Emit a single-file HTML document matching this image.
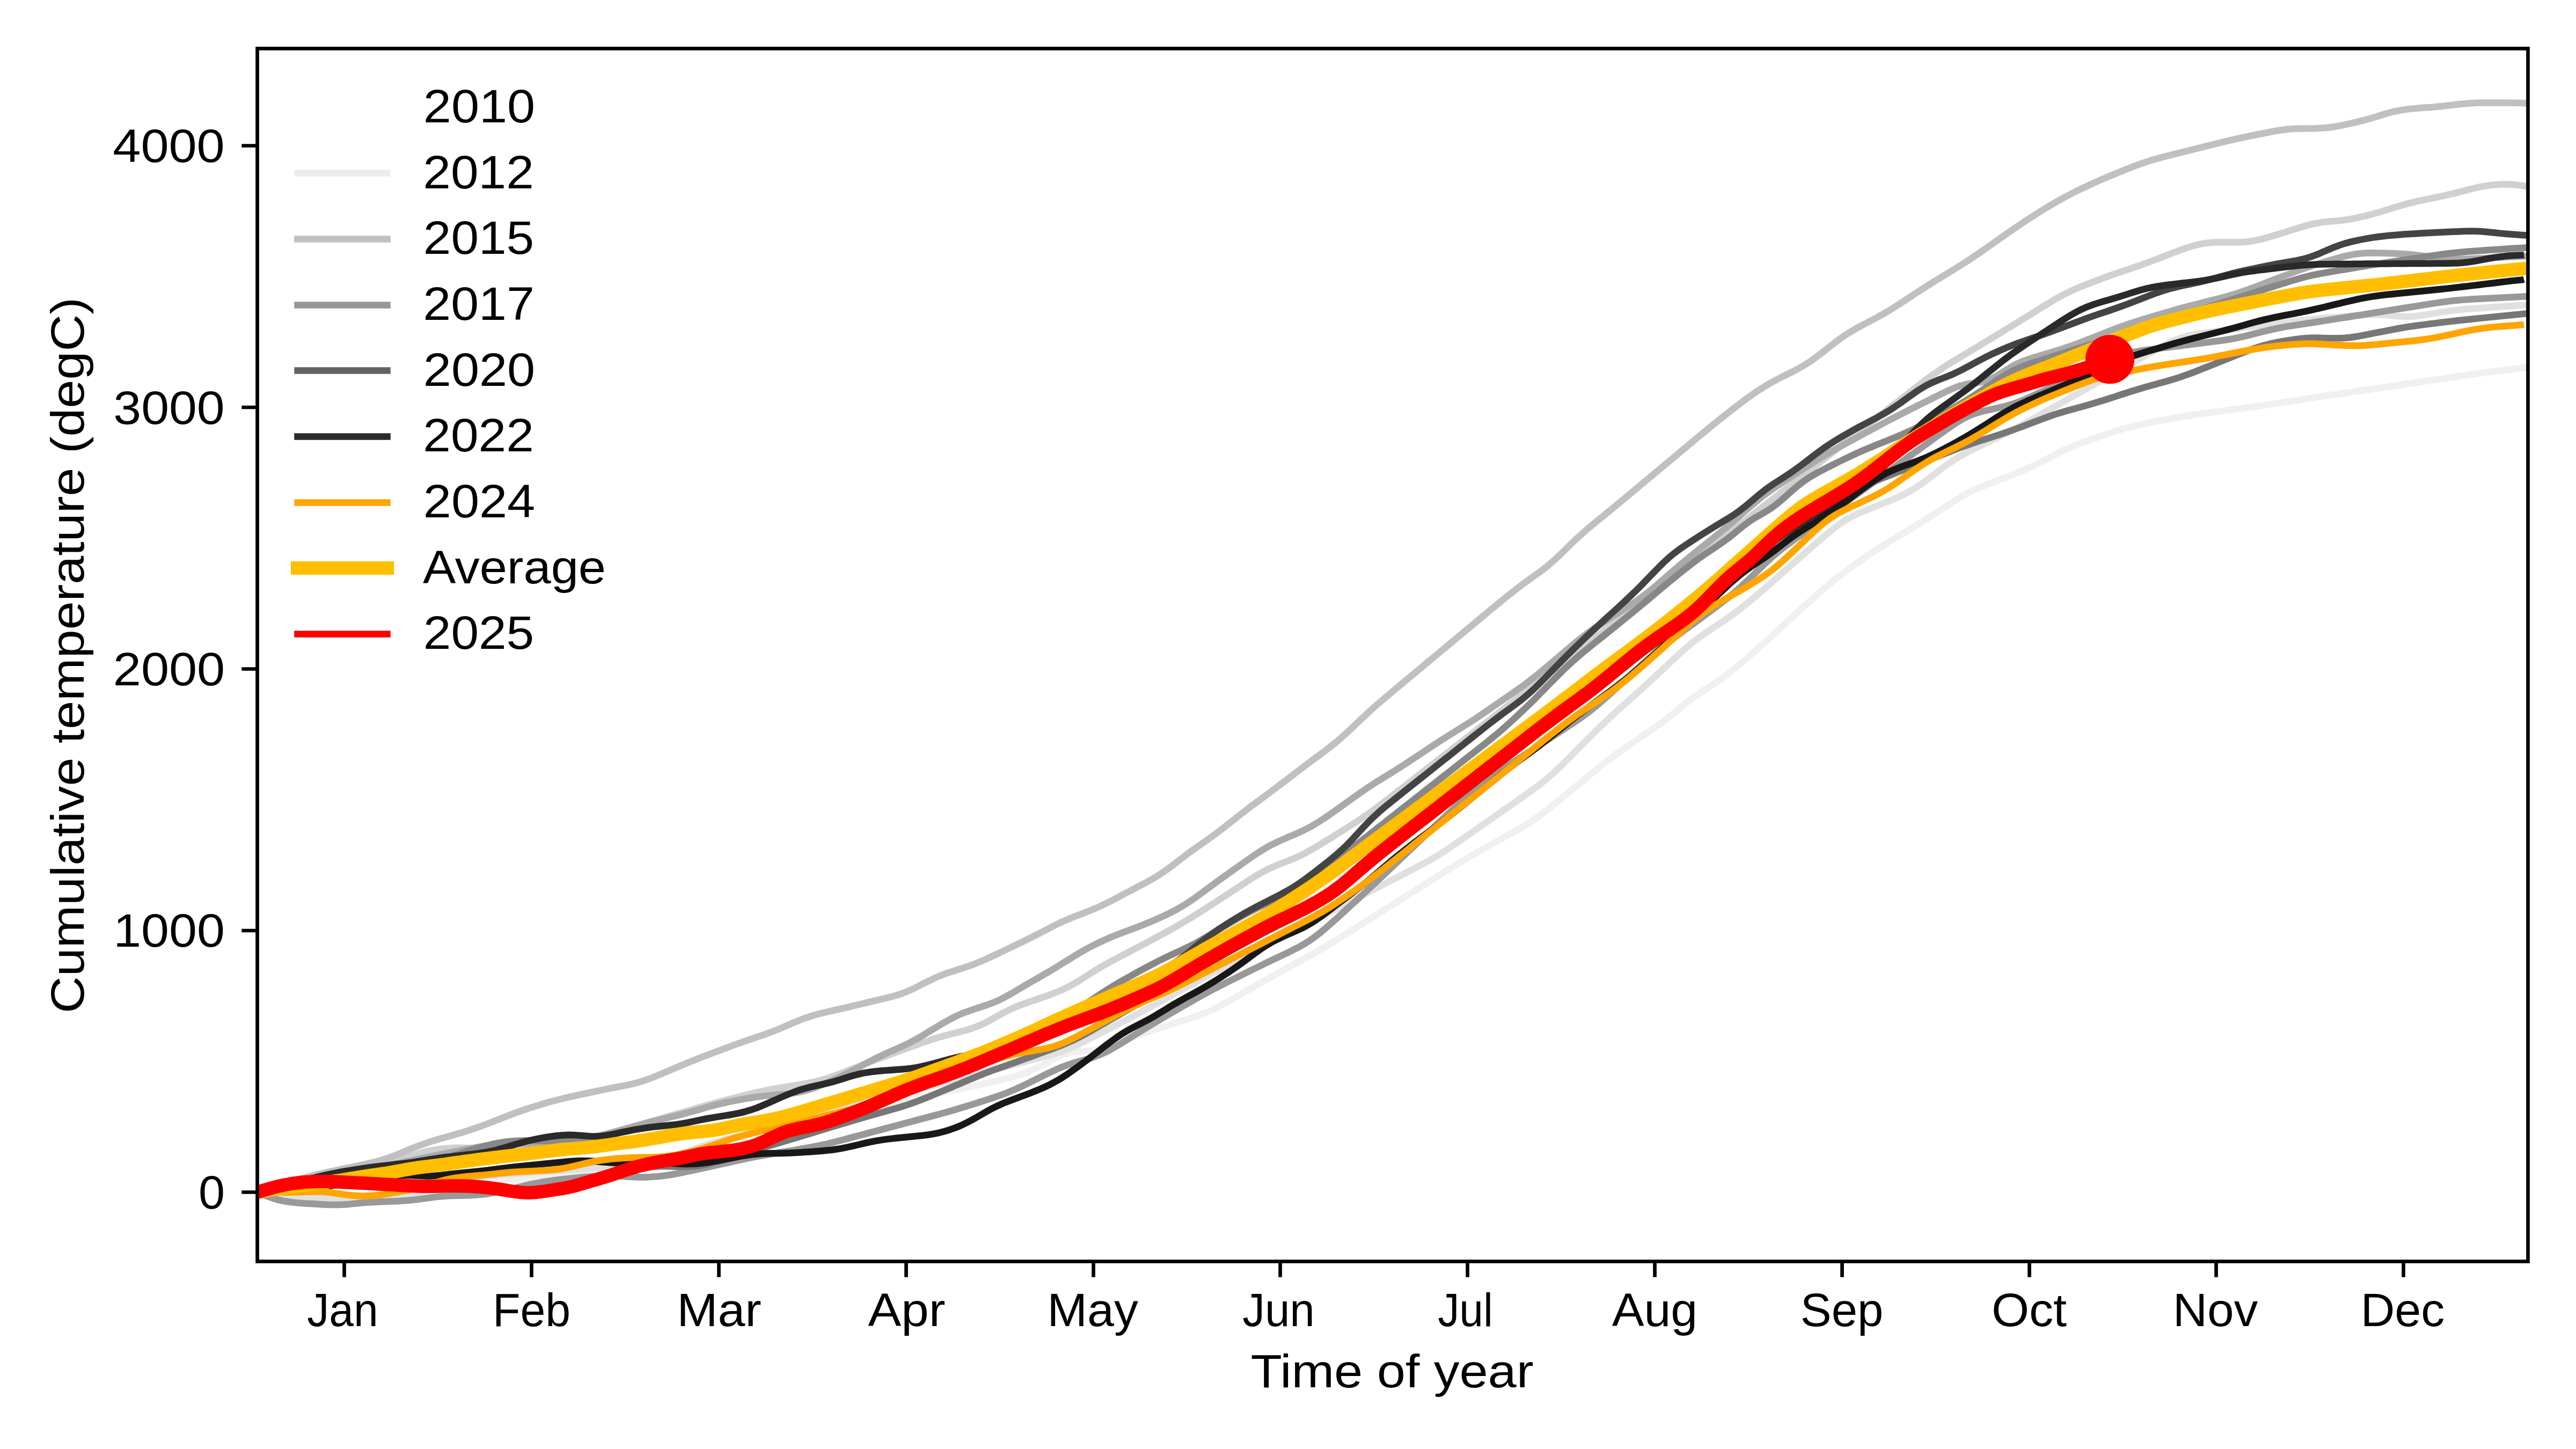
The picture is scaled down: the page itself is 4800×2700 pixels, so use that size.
<!DOCTYPE html>
<html><head><meta charset="utf-8"><style>html,body{margin:0;padding:0;background:#fff;width:4800px;height:2700px;overflow:hidden}svg{display:block}</style></head>
<body><svg width="4800" height="2700" viewBox="0 0 4800 2700">
<rect width="4800" height="2700" fill="#fff"/>
<defs><clipPath id="c"><rect x="479.5" y="90.5" width="4231.0" height="2260.0"/></clipPath></defs>
<g clip-path="url(#c)" fill="none" stroke-linejoin="round" stroke-linecap="butt">
<polyline points="479.5,2221.5 489.5,2224.8 499.5,2227.9 509.5,2230.5 519.5,2232.6 529.5,2233.9 539.5,2234.7 549.5,2235.0 559.5,2235.1 569.5,2235.1 579.5,2235.2 589.5,2235.3 599.5,2235.8 609.5,2236.4 619.5,2237.2 629.5,2238.2 639.5,2239.1 649.5,2239.9 659.5,2240.5 669.5,2240.9 679.5,2241.0 689.5,2240.7 699.5,2240.1 709.5,2239.2 719.5,2238.0 729.5,2236.6 739.5,2234.9 749.5,2233.1 759.5,2231.0 769.5,2228.8 779.5,2226.4 789.5,2223.8 799.5,2221.3 809.5,2218.7 819.5,2216.1 829.5,2213.8 839.5,2211.7 849.5,2209.8 859.5,2208.2 869.5,2206.9 879.5,2205.7 889.5,2204.6 899.5,2203.5 909.5,2202.6 919.5,2201.6 929.5,2200.7 939.5,2199.8 949.5,2198.9 959.5,2198.2 969.5,2197.5 979.5,2196.8 989.5,2196.2 999.5,2195.5 1009.5,2194.8 1019.5,2193.9 1029.5,2192.9 1039.5,2191.6 1049.5,2190.1 1059.5,2188.3 1069.5,2186.4 1079.5,2184.4 1089.5,2182.4 1099.5,2180.5 1109.5,2178.7 1119.5,2177.0 1129.5,2175.6 1139.5,2174.4 1149.5,2173.4 1159.5,2172.6 1169.5,2172.0 1179.5,2171.5 1189.5,2171.0 1199.5,2170.5 1209.5,2170.1 1219.5,2169.5 1229.5,2168.7 1239.5,2167.7 1249.5,2166.5 1259.5,2164.9 1269.5,2163.1 1279.5,2161.0 1289.5,2158.6 1299.5,2156.0 1309.5,2153.2 1319.5,2150.3 1329.5,2147.2 1339.5,2144.1 1349.5,2140.9 1359.5,2137.9 1369.5,2134.9 1379.5,2132.1 1389.5,2129.4 1399.5,2127.0 1409.5,2124.7 1419.5,2122.5 1429.5,2120.4 1439.5,2118.2 1449.5,2115.9 1459.5,2113.4 1469.5,2110.8 1479.5,2108.1 1489.5,2105.4 1499.5,2102.6 1509.5,2099.8 1519.5,2097.0 1529.5,2094.2 1539.5,2091.4 1549.5,2088.6 1559.5,2085.8 1569.5,2083.1 1579.5,2080.3 1589.5,2077.5 1599.5,2074.7 1609.5,2071.9 1619.5,2069.1 1629.5,2066.3 1639.5,2063.5 1649.5,2060.7 1659.5,2058.0 1669.5,2055.2 1679.5,2052.6 1689.5,2050.0 1699.5,2047.6 1709.5,2045.3 1719.5,2043.1 1729.5,2041.0 1739.5,2039.0 1749.5,2037.0 1759.5,2035.0 1769.5,2033.0 1779.5,2031.0 1789.5,2029.0 1799.5,2026.9 1809.5,2024.8 1819.5,2022.7 1829.5,2020.5 1839.5,2018.2 1849.5,2015.8 1859.5,2013.5 1869.5,2011.1 1879.5,2008.6 1889.5,2005.9 1899.5,2003.0 1909.5,1999.6 1919.5,1995.6 1929.5,1991.1 1939.5,1986.0 1949.5,1980.7 1959.5,1975.4 1969.5,1970.3 1979.5,1965.8 1989.5,1962.4 1999.5,1960.2 2009.5,1959.1 2019.5,1958.6 2029.5,1958.0 2039.5,1956.6 2049.5,1954.4 2059.5,1951.4 2069.5,1948.0 2079.5,1944.4 2089.5,1940.7 2099.5,1936.9 2109.5,1933.2 2119.5,1929.6 2129.5,1926.0 2139.5,1922.5 2149.5,1919.2 2159.5,1915.9 2169.5,1912.7 2179.5,1909.6 2189.5,1906.4 2199.5,1903.3 2209.5,1900.1 2219.5,1896.9 2229.5,1893.5 2239.5,1889.9 2249.5,1885.9 2259.5,1881.4 2269.5,1876.4 2279.5,1871.1 2289.5,1865.6 2299.5,1859.9 2309.5,1854.2 2319.5,1848.4 2329.5,1842.7 2339.5,1837.0 2349.5,1831.3 2359.5,1825.6 2369.5,1820.0 2379.5,1814.4 2389.5,1808.8 2399.5,1803.3 2409.5,1797.8 2419.5,1792.3 2429.5,1786.8 2439.5,1781.2 2449.5,1775.6 2459.5,1769.9 2469.5,1764.0 2479.5,1758.0 2489.5,1751.9 2499.5,1745.7 2509.5,1739.5 2519.5,1733.2 2529.5,1726.9 2539.5,1720.6 2549.5,1714.3 2559.5,1708.0 2569.5,1701.7 2579.5,1695.4 2589.5,1689.2 2599.5,1682.9 2609.5,1676.6 2619.5,1670.3 2629.5,1664.0 2639.5,1657.7 2649.5,1651.4 2659.5,1645.1 2669.5,1638.8 2679.5,1632.5 2689.5,1626.2 2699.5,1620.0 2709.5,1613.8 2719.5,1607.6 2729.5,1601.6 2739.5,1595.7 2749.5,1590.0 2759.5,1584.3 2769.5,1578.7 2779.5,1573.1 2789.5,1567.6 2799.5,1562.0 2809.5,1556.4 2819.5,1550.8 2829.5,1545.1 2839.5,1539.3 2849.5,1533.1 2859.5,1526.5 2869.5,1519.4 2879.5,1511.8 2889.5,1504.0 2899.5,1495.9 2909.5,1487.7 2919.5,1479.5 2929.5,1471.2 2939.5,1463.0 2949.5,1454.7 2959.5,1446.5 2969.5,1438.3 2979.5,1430.2 2989.5,1422.2 2999.5,1414.4 3009.5,1406.8 3019.5,1399.6 3029.5,1392.6 3039.5,1385.7 3049.5,1379.0 3059.5,1372.3 3069.5,1365.5 3079.5,1358.7 3089.5,1351.7 3099.5,1344.4 3109.5,1336.6 3119.5,1328.4 3129.5,1320.1 3139.5,1311.8 3149.5,1303.9 3159.5,1296.7 3169.5,1289.9 3179.5,1283.5 3189.5,1277.1 3199.5,1270.4 3209.5,1263.3 3219.5,1255.8 3229.5,1247.9 3239.5,1239.7 3249.5,1231.3 3259.5,1222.8 3269.5,1214.0 3279.5,1205.1 3289.5,1196.1 3299.5,1186.9 3309.5,1177.6 3319.5,1168.3 3329.5,1159.1 3339.5,1150.0 3349.5,1140.8 3359.5,1131.7 3369.5,1122.6 3379.5,1113.6 3389.5,1104.7 3399.5,1096.0 3409.5,1087.6 3419.5,1079.6 3429.5,1071.8 3439.5,1064.3 3449.5,1056.9 3459.5,1049.6 3469.5,1042.5 3479.5,1035.6 3489.5,1028.8 3499.5,1022.4 3509.5,1016.1 3519.5,1010.0 3529.5,1003.9 3539.5,997.9 3549.5,991.9 3559.5,985.8 3569.5,979.7 3579.5,973.6 3589.5,967.3 3599.5,960.9 3609.5,954.4 3619.5,947.9 3629.5,941.3 3639.5,934.9 3649.5,928.6 3659.5,922.8 3669.5,917.4 3679.5,912.5 3689.5,908.1 3699.5,904.0 3709.5,900.1 3719.5,896.3 3729.5,892.5 3739.5,888.7 3749.5,884.9 3759.5,880.9 3769.5,876.8 3779.5,872.3 3789.5,867.6 3799.5,862.7 3809.5,857.6 3819.5,852.4 3829.5,847.2 3839.5,842.2 3849.5,837.4 3859.5,833.0 3869.5,828.9 3879.5,825.0 3889.5,821.4 3899.5,817.8 3909.5,814.3 3919.5,810.8 3929.5,807.4 3939.5,804.1 3949.5,801.0 3959.5,798.1 3969.5,795.5 3979.5,793.1 3989.5,791.0 3999.5,788.9 4009.5,786.9 4019.5,784.9 4029.5,782.9 4039.5,781.0 4049.5,779.1 4059.5,777.4 4069.5,775.7 4079.5,774.2 4089.5,772.7 4099.5,771.4 4109.5,770.0 4119.5,768.7 4129.5,767.3 4139.5,766.0 4149.5,764.7 4159.5,763.3 4169.5,762.0 4179.5,760.7 4189.5,759.3 4199.5,757.9 4209.5,756.5 4219.5,755.1 4229.5,753.6 4239.5,752.1 4249.5,750.6 4259.5,749.0 4269.5,747.4 4279.5,745.9 4289.5,744.3 4299.5,742.8 4309.5,741.3 4319.5,739.8 4329.5,738.3 4339.5,736.8 4349.5,735.4 4359.5,733.9 4369.5,732.4 4379.5,730.9 4389.5,729.5 4399.5,728.0 4409.5,726.5 4419.5,725.1 4429.5,723.6 4439.5,722.1 4449.5,720.6 4459.5,719.2 4469.5,717.7 4479.5,716.2 4489.5,714.8 4499.5,713.3 4509.5,711.8 4519.5,710.3 4529.5,708.9 4539.5,707.4 4549.5,705.9 4559.5,704.5 4569.5,703.0 4579.5,701.5 4589.5,700.1 4599.5,698.6 4609.5,697.2 4619.5,695.8 4629.5,694.4 4639.5,693.1 4649.5,691.8 4659.5,690.5 4669.5,689.3 4679.5,688.0 4689.5,686.8 4699.5,685.5 4707.6,684.4" stroke="#f0f0f0" stroke-width="12.5" stroke-opacity="1"/>
<polyline points="479.5,2221.5 489.5,2223.9 499.5,2226.1 509.5,2228.0 519.5,2229.4 529.5,2230.4 539.5,2230.9 549.5,2231.1 559.5,2231.1 569.5,2231.1 579.5,2231.2 589.5,2231.3 599.5,2231.8 609.5,2232.4 619.5,2233.2 629.5,2234.2 639.5,2235.1 649.5,2235.9 659.5,2236.5 669.5,2236.9 679.5,2237.0 689.5,2236.7 699.5,2236.1 709.5,2235.2 719.5,2234.0 729.5,2232.6 739.5,2230.9 749.5,2229.1 759.5,2227.0 769.5,2224.6 779.5,2222.0 789.5,2219.0 799.5,2215.7 809.5,2212.0 819.5,2208.1 829.5,2204.3 839.5,2200.9 849.5,2198.0 859.5,2195.8 869.5,2194.2 879.5,2193.0 889.5,2192.1 899.5,2191.4 909.5,2190.6 919.5,2189.9 929.5,2189.2 939.5,2188.5 949.5,2187.8 959.5,2187.1 969.5,2186.4 979.5,2185.7 989.5,2185.0 999.5,2184.3 1009.5,2183.6 1019.5,2182.9 1029.5,2182.2 1039.5,2181.5 1049.5,2180.7 1059.5,2180.0 1069.5,2179.3 1079.5,2178.6 1089.5,2177.8 1099.5,2177.0 1109.5,2176.2 1119.5,2175.4 1129.5,2174.6 1139.5,2173.8 1149.5,2172.9 1159.5,2172.1 1169.5,2171.3 1179.5,2170.4 1189.5,2169.6 1199.5,2168.6 1209.5,2167.5 1219.5,2166.1 1229.5,2164.2 1239.5,2161.6 1249.5,2158.4 1259.5,2154.6 1269.5,2150.6 1279.5,2146.4 1289.5,2142.3 1299.5,2138.6 1309.5,2135.2 1319.5,2132.1 1329.5,2129.2 1339.5,2126.5 1349.5,2123.9 1359.5,2121.3 1369.5,2118.7 1379.5,2116.1 1389.5,2113.5 1399.5,2110.9 1409.5,2108.3 1419.5,2105.7 1429.5,2103.1 1439.5,2100.5 1449.5,2097.9 1459.5,2095.3 1469.5,2092.7 1479.5,2090.1 1489.5,2087.5 1499.5,2084.9 1509.5,2082.3 1519.5,2079.7 1529.5,2077.1 1539.5,2074.5 1549.5,2071.9 1559.5,2069.3 1569.5,2066.7 1579.5,2064.1 1589.5,2061.5 1599.5,2058.9 1609.5,2056.3 1619.5,2053.7 1629.5,2051.2 1639.5,2048.6 1649.5,2046.0 1659.5,2043.4 1669.5,2040.8 1679.5,2038.2 1689.5,2035.6 1699.5,2033.0 1709.5,2030.4 1719.5,2027.8 1729.5,2025.2 1739.5,2022.6 1749.5,2020.0 1759.5,2017.4 1769.5,2014.8 1779.5,2012.2 1789.5,2009.6 1799.5,2007.0 1809.5,2004.4 1819.5,2001.8 1829.5,1999.2 1839.5,1996.6 1849.5,1994.0 1859.5,1991.4 1869.5,1988.8 1879.5,1986.2 1889.5,1983.6 1899.5,1981.0 1909.5,1978.4 1919.5,1975.8 1929.5,1973.2 1939.5,1970.6 1949.5,1967.9 1959.5,1965.1 1969.5,1962.1 1979.5,1958.6 1989.5,1954.8 1999.5,1950.5 2009.5,1945.9 2019.5,1941.0 2029.5,1936.0 2039.5,1930.9 2049.5,1925.8 2059.5,1920.7 2069.5,1915.6 2079.5,1910.4 2089.5,1905.3 2099.5,1900.1 2109.5,1894.8 2119.5,1889.5 2129.5,1884.1 2139.5,1878.6 2149.5,1873.2 2159.5,1867.7 2169.5,1862.2 2179.5,1856.7 2189.5,1851.3 2199.5,1845.8 2209.5,1840.3 2219.5,1834.8 2229.5,1829.4 2239.5,1824.0 2249.5,1818.6 2259.5,1813.3 2269.5,1808.1 2279.5,1802.8 2289.5,1797.6 2299.5,1792.4 2309.5,1787.2 2319.5,1782.1 2329.5,1776.9 2339.5,1771.7 2349.5,1766.5 2359.5,1761.3 2369.5,1756.1 2379.5,1750.9 2389.5,1745.7 2399.5,1740.6 2409.5,1735.4 2419.5,1730.2 2429.5,1725.0 2439.5,1719.8 2449.5,1714.6 2459.5,1709.4 2469.5,1704.2 2479.5,1699.0 2489.5,1693.9 2499.5,1688.7 2509.5,1683.5 2519.5,1678.3 2529.5,1673.1 2539.5,1667.9 2549.5,1662.7 2559.5,1657.5 2569.5,1652.4 2579.5,1647.2 2589.5,1642.0 2599.5,1636.8 2609.5,1631.6 2619.5,1626.4 2629.5,1621.2 2639.5,1616.0 2649.5,1610.7 2659.5,1605.3 2669.5,1599.7 2679.5,1593.7 2689.5,1587.5 2699.5,1580.9 2709.5,1574.1 2719.5,1567.2 2729.5,1560.3 2739.5,1553.3 2749.5,1546.3 2759.5,1539.3 2769.5,1532.3 2779.5,1525.3 2789.5,1518.3 2799.5,1511.3 2809.5,1504.3 2819.5,1497.3 2829.5,1490.3 2839.5,1483.2 2849.5,1476.1 2859.5,1468.9 2869.5,1461.4 2879.5,1453.5 2889.5,1445.0 2899.5,1435.9 2909.5,1426.4 2919.5,1416.6 2929.5,1406.5 2939.5,1396.4 2949.5,1386.2 2959.5,1376.1 2969.5,1366.1 2979.5,1356.3 2989.5,1346.7 2999.5,1337.3 3009.5,1328.1 3019.5,1319.1 3029.5,1310.1 3039.5,1301.2 3049.5,1292.3 3059.5,1283.3 3069.5,1274.2 3079.5,1265.0 3089.5,1255.6 3099.5,1246.2 3109.5,1236.8 3119.5,1227.4 3129.5,1218.1 3139.5,1209.2 3149.5,1200.7 3159.5,1192.7 3169.5,1185.3 3179.5,1178.3 3189.5,1171.6 3199.5,1165.1 3209.5,1158.4 3219.5,1151.6 3229.5,1144.5 3239.5,1137.0 3249.5,1129.1 3259.5,1121.0 3269.5,1112.5 3279.5,1104.0 3289.5,1095.4 3299.5,1086.7 3309.5,1077.9 3319.5,1069.2 3329.5,1060.4 3339.5,1051.6 3349.5,1042.8 3359.5,1033.9 3369.5,1025.1 3379.5,1016.3 3389.5,1007.5 3399.5,998.9 3409.5,990.5 3419.5,982.5 3429.5,975.3 3439.5,968.8 3449.5,963.2 3459.5,958.3 3469.5,953.9 3479.5,949.7 3489.5,945.7 3499.5,941.7 3509.5,937.7 3519.5,933.6 3529.5,929.5 3539.5,925.1 3549.5,920.3 3559.5,915.0 3569.5,909.0 3579.5,902.3 3589.5,895.0 3599.5,887.4 3609.5,879.7 3619.5,872.0 3629.5,864.8 3639.5,858.0 3649.5,851.7 3659.5,846.0 3669.5,840.8 3679.5,835.8 3689.5,830.9 3699.5,826.1 3709.5,821.3 3719.5,816.4 3729.5,811.6 3739.5,806.6 3749.5,801.5 3759.5,796.2 3769.5,790.8 3779.5,785.2 3789.5,779.7 3799.5,774.1 3809.5,768.4 3819.5,762.8 3829.5,757.2 3839.5,751.6 3849.5,745.9 3859.5,740.3 3869.5,734.7 3879.5,729.0 3889.5,723.4 3899.5,717.8 3909.5,712.2 3919.5,706.5 3929.5,700.9 3939.5,695.3 3949.5,689.7 3959.5,684.0 3969.5,678.4 3979.5,672.8 3989.5,667.2 3999.5,661.5 4009.5,655.9 4019.5,650.4 4029.5,644.9 4039.5,639.7 4049.5,635.0 4059.5,631.0 4069.5,627.7 4079.5,625.1 4089.5,623.1 4099.5,621.5 4109.5,620.1 4119.5,618.7 4129.5,617.4 4139.5,616.1 4149.5,614.8 4159.5,613.5 4169.5,612.2 4179.5,610.9 4189.5,609.6 4199.5,608.3 4209.5,607.0 4219.5,605.6 4229.5,604.3 4239.5,603.0 4249.5,601.7 4259.5,600.4 4269.5,599.1 4279.5,597.9 4289.5,596.7 4299.5,595.6 4309.5,594.6 4319.5,593.7 4329.5,592.8 4339.5,592.0 4349.5,591.2 4359.5,590.4 4369.5,589.6 4379.5,588.8 4389.5,588.0 4399.5,587.3 4409.5,586.7 4419.5,586.3 4429.5,586.3 4439.5,586.7 4449.5,587.6 4459.5,588.6 4469.5,589.5 4479.5,590.0 4489.5,589.9 4499.5,589.2 4509.5,588.1 4519.5,586.6 4529.5,585.0 4539.5,583.3 4549.5,581.7 4559.5,580.1 4569.5,578.7 4579.5,577.6 4589.5,576.5 4599.5,575.7 4609.5,574.9 4619.5,574.2 4629.5,573.5 4639.5,572.8 4649.5,572.2 4659.5,571.5 4669.5,570.8 4679.5,570.2 4689.5,569.5 4699.5,568.9 4707.6,568.2" stroke="#e0e0e0" stroke-width="12.5" stroke-opacity="1"/>
<polyline points="479.5,2221.5 489.5,2219.3 499.5,2217.1 509.5,2214.9 519.5,2212.7 529.5,2210.5 539.5,2208.3 549.5,2206.1 559.5,2203.9 569.5,2201.6 579.5,2199.4 589.5,2197.2 599.5,2195.0 609.5,2192.8 619.5,2190.6 629.5,2188.4 639.5,2186.2 649.5,2184.0 659.5,2181.8 669.5,2179.6 679.5,2177.4 689.5,2175.2 699.5,2172.9 709.5,2170.6 719.5,2168.2 729.5,2165.5 739.5,2162.6 749.5,2159.4 759.5,2156.1 769.5,2152.8 779.5,2149.7 789.5,2146.9 799.5,2144.6 809.5,2142.6 819.5,2141.1 829.5,2139.9 839.5,2139.2 849.5,2138.8 859.5,2138.8 869.5,2139.0 879.5,2139.5 889.5,2140.0 899.5,2140.4 909.5,2140.7 919.5,2141.0 929.5,2141.1 939.5,2141.2 949.5,2141.2 959.5,2141.1 969.5,2140.9 979.5,2140.7 989.5,2140.5 999.5,2140.2 1009.5,2139.8 1019.5,2139.3 1029.5,2138.5 1039.5,2137.4 1049.5,2135.7 1059.5,2133.6 1069.5,2131.2 1079.5,2128.5 1089.5,2125.6 1099.5,2122.7 1109.5,2119.8 1119.5,2116.9 1129.5,2114.0 1139.5,2111.1 1149.5,2108.2 1159.5,2105.3 1169.5,2102.4 1179.5,2099.5 1189.5,2096.6 1199.5,2093.6 1209.5,2090.7 1219.5,2087.8 1229.5,2084.9 1239.5,2082.0 1249.5,2079.1 1259.5,2076.2 1269.5,2073.3 1279.5,2070.4 1289.5,2067.5 1299.5,2064.6 1309.5,2061.7 1319.5,2058.8 1329.5,2056.0 1339.5,2053.3 1349.5,2050.7 1359.5,2048.1 1369.5,2045.5 1379.5,2043.0 1389.5,2040.5 1399.5,2038.1 1409.5,2035.7 1419.5,2033.5 1429.5,2031.4 1439.5,2029.4 1449.5,2027.6 1459.5,2025.9 1469.5,2024.3 1479.5,2022.7 1489.5,2021.0 1499.5,2019.3 1509.5,2017.4 1519.5,2015.3 1529.5,2012.8 1539.5,2009.9 1549.5,2006.5 1559.5,2002.9 1569.5,1999.0 1579.5,1995.1 1589.5,1991.1 1599.5,1987.2 1609.5,1983.3 1619.5,1979.5 1629.5,1975.7 1639.5,1972.0 1649.5,1968.3 1659.5,1964.6 1669.5,1960.9 1679.5,1957.2 1689.5,1953.6 1699.5,1949.9 1709.5,1946.3 1719.5,1942.7 1729.5,1939.3 1739.5,1936.0 1749.5,1932.9 1759.5,1930.1 1769.5,1927.5 1779.5,1924.9 1789.5,1922.4 1799.5,1919.7 1809.5,1916.7 1819.5,1913.1 1829.5,1908.9 1839.5,1904.0 1849.5,1898.5 1859.5,1892.8 1869.5,1887.3 1879.5,1882.2 1889.5,1877.6 1899.5,1873.5 1909.5,1869.9 1919.5,1866.4 1929.5,1863.0 1939.5,1859.6 1949.5,1856.1 1959.5,1852.4 1969.5,1848.5 1979.5,1844.2 1989.5,1839.4 1999.5,1834.0 2009.5,1828.1 2019.5,1821.8 2029.5,1815.4 2039.5,1809.1 2049.5,1803.0 2059.5,1797.3 2069.5,1791.8 2079.5,1786.5 2089.5,1781.3 2099.5,1776.0 2109.5,1770.8 2119.5,1765.5 2129.5,1760.2 2139.5,1754.9 2149.5,1749.5 2159.5,1744.1 2169.5,1738.7 2179.5,1733.2 2189.5,1727.6 2199.5,1721.8 2209.5,1715.8 2219.5,1709.8 2229.5,1703.6 2239.5,1697.4 2249.5,1691.0 2259.5,1684.6 2269.5,1678.1 2279.5,1671.6 2289.5,1665.0 2299.5,1658.4 2309.5,1651.8 2319.5,1645.2 2329.5,1638.8 2339.5,1632.5 2349.5,1626.6 2359.5,1621.2 2369.5,1616.4 2379.5,1612.1 2389.5,1608.2 2399.5,1604.4 2409.5,1600.4 2419.5,1595.9 2429.5,1590.9 2439.5,1585.5 2449.5,1579.8 2459.5,1573.8 2469.5,1567.7 2479.5,1561.6 2489.5,1555.3 2499.5,1549.1 2509.5,1542.8 2519.5,1536.4 2529.5,1529.9 2539.5,1523.3 2549.5,1516.4 2559.5,1509.2 2569.5,1501.8 2579.5,1494.2 2589.5,1486.5 2599.5,1478.7 2609.5,1470.9 2619.5,1463.1 2629.5,1455.3 2639.5,1447.5 2649.5,1439.7 2659.5,1431.9 2669.5,1424.1 2679.5,1416.3 2689.5,1408.5 2699.5,1400.7 2709.5,1392.9 2719.5,1385.1 2729.5,1377.3 2739.5,1369.5 2749.5,1361.7 2759.5,1353.9 2769.5,1346.2 2779.5,1338.4 2789.5,1330.6 2799.5,1322.8 2809.5,1315.0 2819.5,1307.2 2829.5,1299.4 2839.5,1291.6 2849.5,1283.8 2859.5,1276.0 2869.5,1268.2 2879.5,1260.4 2889.5,1252.6 2899.5,1244.8 2909.5,1237.0 2919.5,1229.2 2929.5,1221.4 2939.5,1213.6 2949.5,1205.8 2959.5,1198.0 2969.5,1190.2 2979.5,1182.4 2989.5,1174.6 2999.5,1166.8 3009.5,1159.0 3019.5,1151.2 3029.5,1143.4 3039.5,1135.6 3049.5,1127.8 3059.5,1120.0 3069.5,1112.2 3079.5,1104.4 3089.5,1096.6 3099.5,1088.8 3109.5,1081.0 3119.5,1073.2 3129.5,1065.4 3139.5,1057.6 3149.5,1049.8 3159.5,1042.0 3169.5,1034.2 3179.5,1026.4 3189.5,1018.6 3199.5,1010.9 3209.5,1003.1 3219.5,995.3 3229.5,987.5 3239.5,979.7 3249.5,971.9 3259.5,964.1 3269.5,956.3 3279.5,948.5 3289.5,940.7 3299.5,932.9 3309.5,925.1 3319.5,917.3 3329.5,909.5 3339.5,901.7 3349.5,893.9 3359.5,886.1 3369.5,878.3 3379.5,870.5 3389.5,862.7 3399.5,854.9 3409.5,847.1 3419.5,839.3 3429.5,831.5 3439.5,823.7 3449.5,815.9 3459.5,808.1 3469.5,800.3 3479.5,792.5 3489.5,784.7 3499.5,776.9 3509.5,769.1 3519.5,761.3 3529.5,753.5 3539.5,745.7 3549.5,737.9 3559.5,730.1 3569.5,722.4 3579.5,714.7 3589.5,707.1 3599.5,699.8 3609.5,692.8 3619.5,686.0 3629.5,679.6 3639.5,673.4 3649.5,667.3 3659.5,661.3 3669.5,655.3 3679.5,649.3 3689.5,643.3 3699.5,637.2 3709.5,631.2 3719.5,625.1 3729.5,619.0 3739.5,612.9 3749.5,606.8 3759.5,600.6 3769.5,594.4 3779.5,588.3 3789.5,582.1 3799.5,575.9 3809.5,569.8 3819.5,563.7 3829.5,557.7 3839.5,552.1 3849.5,546.8 3859.5,541.9 3869.5,537.5 3879.5,533.4 3889.5,529.5 3899.5,525.6 3909.5,521.8 3919.5,518.0 3929.5,514.3 3939.5,510.7 3949.5,507.3 3959.5,504.0 3969.5,500.6 3979.5,497.3 3989.5,493.8 3999.5,490.2 4009.5,486.5 4019.5,482.7 4029.5,478.8 4039.5,474.9 4049.5,471.0 4059.5,467.3 4069.5,463.6 4079.5,460.3 4089.5,457.3 4099.5,454.9 4109.5,453.2 4119.5,452.0 4129.5,451.5 4139.5,451.4 4149.5,451.4 4159.5,451.5 4169.5,451.5 4179.5,451.1 4189.5,450.2 4199.5,448.7 4209.5,446.6 4219.5,444.1 4229.5,441.3 4239.5,438.3 4249.5,435.2 4259.5,432.1 4269.5,428.9 4279.5,425.8 4289.5,422.7 4299.5,419.9 4309.5,417.4 4319.5,415.4 4329.5,413.9 4339.5,412.8 4349.5,412.0 4359.5,411.1 4369.5,410.0 4379.5,408.4 4389.5,406.4 4399.5,404.2 4409.5,401.8 4419.5,399.2 4429.5,396.4 4439.5,393.5 4449.5,390.4 4459.5,387.3 4469.5,384.2 4479.5,381.3 4489.5,378.6 4499.5,376.2 4509.5,373.9 4519.5,371.8 4529.5,369.8 4539.5,367.7 4549.5,365.6 4559.5,363.4 4569.5,361.1 4579.5,358.6 4589.5,356.0 4599.5,353.4 4609.5,350.9 4619.5,348.7 4629.5,346.8 4639.5,345.3 4649.5,344.2 4659.5,343.4 4669.5,343.3 4679.5,343.7 4689.5,344.6 4699.5,345.9 4707.6,347.4" stroke="#d0d0d0" stroke-width="12.5" stroke-opacity="1"/>
<polyline points="479.5,2221.5 489.5,2218.2 499.5,2214.9 509.5,2211.6 519.5,2208.4 529.5,2205.2 539.5,2202.1 549.5,2199.1 559.5,2196.3 569.5,2193.7 579.5,2191.2 589.5,2188.9 599.5,2186.6 609.5,2184.3 619.5,2182.2 629.5,2180.0 639.5,2178.0 649.5,2175.9 659.5,2173.8 669.5,2171.7 679.5,2169.5 689.5,2167.2 699.5,2164.7 709.5,2162.0 719.5,2159.0 729.5,2155.5 739.5,2151.7 749.5,2147.5 759.5,2143.2 769.5,2139.1 779.5,2135.2 789.5,2131.6 799.5,2128.2 809.5,2125.0 819.5,2122.0 829.5,2119.2 839.5,2116.4 849.5,2113.6 859.5,2110.7 869.5,2107.6 879.5,2104.3 889.5,2100.9 899.5,2097.3 909.5,2093.5 919.5,2089.7 929.5,2085.8 939.5,2081.8 949.5,2077.9 959.5,2074.1 969.5,2070.5 979.5,2067.0 989.5,2063.7 999.5,2060.6 1009.5,2057.6 1019.5,2054.6 1029.5,2051.8 1039.5,2049.2 1049.5,2046.7 1059.5,2044.4 1069.5,2042.2 1079.5,2040.0 1089.5,2037.9 1099.5,2035.8 1109.5,2033.6 1119.5,2031.5 1129.5,2029.4 1139.5,2027.4 1149.5,2025.5 1159.5,2023.7 1169.5,2021.7 1179.5,2019.5 1189.5,2016.9 1199.5,2013.8 1209.5,2010.2 1219.5,2006.3 1229.5,2002.2 1239.5,1997.9 1249.5,1993.7 1259.5,1989.5 1269.5,1985.3 1279.5,1981.1 1289.5,1977.1 1299.5,1973.1 1309.5,1969.1 1319.5,1965.3 1329.5,1961.5 1339.5,1957.8 1349.5,1954.1 1359.5,1950.3 1369.5,1946.7 1379.5,1943.0 1389.5,1939.5 1399.5,1936.1 1409.5,1932.7 1419.5,1929.3 1429.5,1925.8 1439.5,1922.1 1449.5,1918.2 1459.5,1914.0 1469.5,1909.6 1479.5,1905.3 1489.5,1901.2 1499.5,1897.4 1509.5,1894.0 1519.5,1891.1 1529.5,1888.4 1539.5,1886.0 1549.5,1883.7 1559.5,1881.4 1569.5,1879.1 1579.5,1876.8 1589.5,1874.4 1599.5,1872.0 1609.5,1869.6 1619.5,1867.2 1629.5,1864.8 1639.5,1862.5 1649.5,1860.1 1659.5,1857.7 1669.5,1854.9 1679.5,1851.7 1689.5,1847.8 1699.5,1843.4 1709.5,1838.5 1719.5,1833.4 1729.5,1828.4 1739.5,1823.5 1749.5,1819.1 1759.5,1815.2 1769.5,1811.7 1779.5,1808.5 1789.5,1805.3 1799.5,1802.1 1809.5,1798.6 1819.5,1794.7 1829.5,1790.6 1839.5,1786.1 1849.5,1781.5 1859.5,1776.8 1869.5,1772.1 1879.5,1767.3 1889.5,1762.5 1899.5,1757.7 1909.5,1752.9 1919.5,1747.9 1929.5,1742.9 1939.5,1737.7 1949.5,1732.4 1959.5,1727.2 1969.5,1722.2 1979.5,1717.5 1989.5,1713.1 1999.5,1709.0 2009.5,1705.1 2019.5,1701.3 2029.5,1697.4 2039.5,1693.3 2049.5,1688.9 2059.5,1684.2 2069.5,1679.2 2079.5,1673.9 2089.5,1668.6 2099.5,1663.3 2109.5,1658.1 2119.5,1652.8 2129.5,1647.6 2139.5,1642.2 2149.5,1636.6 2159.5,1630.5 2169.5,1623.8 2179.5,1616.6 2189.5,1609.0 2199.5,1601.3 2209.5,1593.6 2219.5,1586.1 2229.5,1579.0 2239.5,1572.0 2249.5,1565.1 2259.5,1557.9 2269.5,1550.6 2279.5,1542.9 2289.5,1535.0 2299.5,1527.1 2309.5,1519.2 2319.5,1511.5 2329.5,1503.8 2339.5,1496.3 2349.5,1488.9 2359.5,1481.5 2369.5,1474.1 2379.5,1466.6 2389.5,1459.0 2399.5,1451.4 2409.5,1443.8 2419.5,1436.1 2429.5,1428.6 2439.5,1421.1 2449.5,1413.6 2459.5,1406.2 2469.5,1398.7 2479.5,1391.0 2489.5,1383.0 2499.5,1374.5 2509.5,1365.5 2519.5,1356.2 2529.5,1346.6 2539.5,1337.1 2549.5,1327.8 2559.5,1318.7 2569.5,1309.9 2579.5,1301.4 2589.5,1293.0 2599.5,1284.6 2609.5,1276.3 2619.5,1267.9 2629.5,1259.6 2639.5,1251.3 2649.5,1243.0 2659.5,1234.6 2669.5,1226.3 2679.5,1218.0 2689.5,1209.7 2699.5,1201.4 2709.5,1193.0 2719.5,1184.7 2729.5,1176.4 2739.5,1168.1 2749.5,1159.7 2759.5,1151.4 2769.5,1143.1 2779.5,1134.8 2789.5,1126.6 2799.5,1118.4 2809.5,1110.3 2819.5,1102.4 2829.5,1094.6 2839.5,1087.1 2849.5,1079.8 2859.5,1072.7 2869.5,1065.5 2879.5,1057.9 2889.5,1049.6 2899.5,1040.7 2909.5,1031.2 2919.5,1021.4 2929.5,1011.6 2939.5,1002.1 2949.5,993.1 2959.5,984.4 2969.5,976.1 2979.5,967.9 2989.5,959.8 2999.5,951.6 3009.5,943.4 3019.5,935.2 3029.5,926.9 3039.5,918.5 3049.5,910.2 3059.5,901.8 3069.5,893.5 3079.5,885.1 3089.5,876.8 3099.5,868.4 3109.5,860.1 3119.5,851.7 3129.5,843.3 3139.5,835.0 3149.5,826.6 3159.5,818.3 3169.5,810.0 3179.5,801.8 3189.5,793.6 3199.5,785.5 3209.5,777.5 3219.5,769.6 3229.5,761.8 3239.5,754.1 3249.5,746.5 3259.5,739.2 3269.5,732.2 3279.5,725.6 3289.5,719.4 3299.5,713.5 3309.5,708.0 3319.5,702.8 3329.5,697.8 3339.5,692.8 3349.5,687.6 3359.5,682.0 3369.5,675.8 3379.5,669.0 3389.5,661.6 3399.5,653.8 3409.5,645.9 3419.5,638.1 3429.5,630.7 3439.5,623.8 3449.5,617.5 3459.5,611.7 3469.5,606.2 3479.5,601.0 3489.5,595.7 3499.5,590.4 3509.5,584.8 3519.5,578.9 3529.5,572.7 3539.5,566.3 3549.5,559.7 3559.5,553.2 3569.5,546.6 3579.5,540.1 3589.5,533.7 3599.5,527.4 3609.5,521.2 3619.5,515.1 3629.5,509.1 3639.5,503.0 3649.5,496.8 3659.5,490.5 3669.5,484.0 3679.5,477.3 3689.5,470.5 3699.5,463.5 3709.5,456.5 3719.5,449.4 3729.5,442.3 3739.5,435.3 3749.5,428.4 3759.5,421.6 3769.5,414.9 3779.5,408.3 3789.5,401.9 3799.5,395.5 3809.5,389.3 3819.5,383.3 3829.5,377.4 3839.5,371.7 3849.5,366.2 3859.5,361.0 3869.5,356.0 3879.5,351.2 3889.5,346.5 3899.5,341.9 3909.5,337.4 3919.5,333.0 3929.5,328.7 3939.5,324.6 3949.5,320.5 3959.5,316.4 3969.5,312.5 3979.5,308.7 3989.5,305.0 3999.5,301.6 4009.5,298.5 4019.5,295.6 4029.5,292.9 4039.5,290.3 4049.5,287.8 4059.5,285.3 4069.5,282.8 4079.5,280.3 4089.5,277.8 4099.5,275.3 4109.5,272.8 4119.5,270.3 4129.5,267.8 4139.5,265.3 4149.5,262.9 4159.5,260.6 4169.5,258.3 4179.5,256.1 4189.5,254.0 4199.5,252.0 4209.5,250.0 4219.5,248.0 4229.5,246.0 4239.5,244.2 4249.5,242.5 4259.5,241.2 4269.5,240.3 4279.5,239.8 4289.5,239.6 4299.5,239.5 4309.5,239.4 4319.5,239.1 4329.5,238.5 4339.5,237.5 4349.5,236.2 4359.5,234.4 4369.5,232.4 4379.5,230.2 4389.5,227.8 4399.5,225.4 4409.5,222.8 4419.5,219.9 4429.5,216.9 4439.5,213.8 4449.5,210.8 4459.5,208.2 4469.5,206.1 4479.5,204.4 4489.5,203.1 4499.5,202.1 4509.5,201.3 4519.5,200.6 4529.5,199.9 4539.5,199.0 4549.5,198.0 4559.5,196.9 4569.5,195.7 4579.5,194.5 4589.5,193.5 4599.5,192.6 4609.5,192.0 4619.5,191.6 4629.5,191.5 4639.5,191.5 4649.5,191.5 4659.5,191.6 4669.5,191.5 4679.5,191.6 4689.5,191.7 4699.5,192.1 4707.6,192.6" stroke="#c0c0c0" stroke-width="12.5" stroke-opacity="1"/>
<polyline points="479.5,2221.5 489.5,2219.4 499.5,2217.4 509.5,2215.3 519.5,2213.3 529.5,2211.2 539.5,2209.2 549.5,2207.1 559.5,2205.0 569.5,2203.0 579.5,2200.9 589.5,2198.9 599.5,2196.8 609.5,2194.7 619.5,2192.7 629.5,2190.6 639.5,2188.6 649.5,2186.5 659.5,2184.5 669.5,2182.4 679.5,2180.3 689.5,2178.3 699.5,2176.2 709.5,2174.2 719.5,2172.1 729.5,2170.1 739.5,2168.0 749.5,2165.9 759.5,2163.9 769.5,2161.8 779.5,2159.8 789.5,2157.7 799.5,2155.6 809.5,2153.6 819.5,2151.5 829.5,2149.5 839.5,2147.4 849.5,2145.4 859.5,2143.4 869.5,2141.5 879.5,2139.6 889.5,2137.7 899.5,2136.0 909.5,2134.4 919.5,2133.0 929.5,2131.9 939.5,2131.1 949.5,2130.7 959.5,2130.6 969.5,2130.7 979.5,2131.0 989.5,2131.3 999.5,2131.5 1009.5,2131.6 1019.5,2131.4 1029.5,2131.0 1039.5,2130.2 1049.5,2129.2 1059.5,2127.8 1069.5,2126.3 1079.5,2124.6 1089.5,2122.6 1099.5,2120.5 1109.5,2118.1 1119.5,2115.6 1129.5,2113.0 1139.5,2110.4 1149.5,2107.7 1159.5,2105.0 1169.5,2102.3 1179.5,2099.5 1189.5,2096.7 1199.5,2094.0 1209.5,2091.4 1219.5,2088.8 1229.5,2086.4 1239.5,2083.9 1249.5,2081.5 1259.5,2079.1 1269.5,2076.6 1279.5,2074.0 1289.5,2071.3 1299.5,2068.4 1309.5,2065.5 1319.5,2062.6 1329.5,2059.9 1339.5,2057.4 1349.5,2055.1 1359.5,2053.0 1369.5,2050.9 1379.5,2049.0 1389.5,2047.2 1399.5,2045.5 1409.5,2044.0 1419.5,2042.7 1429.5,2041.6 1439.5,2040.6 1449.5,2039.7 1459.5,2038.8 1469.5,2037.7 1479.5,2036.5 1489.5,2034.8 1499.5,2032.6 1509.5,2029.8 1519.5,2026.3 1529.5,2022.3 1539.5,2018.0 1549.5,2013.6 1559.5,2009.0 1569.5,2004.3 1579.5,1999.5 1589.5,1994.5 1599.5,1989.2 1609.5,1983.8 1619.5,1978.5 1629.5,1973.2 1639.5,1968.3 1649.5,1963.6 1659.5,1959.2 1669.5,1954.8 1679.5,1950.4 1689.5,1945.7 1699.5,1940.6 1709.5,1935.1 1719.5,1929.3 1729.5,1923.2 1739.5,1917.1 1749.5,1911.0 1759.5,1905.2 1769.5,1899.6 1779.5,1894.4 1789.5,1889.9 1799.5,1885.8 1809.5,1882.3 1819.5,1879.0 1829.5,1875.8 1839.5,1872.5 1849.5,1868.7 1859.5,1864.5 1869.5,1859.6 1879.5,1854.1 1889.5,1848.4 1899.5,1842.4 1909.5,1836.5 1919.5,1830.7 1929.5,1825.0 1939.5,1819.3 1949.5,1813.5 1959.5,1807.6 1969.5,1801.5 1979.5,1795.3 1989.5,1789.1 1999.5,1782.9 2009.5,1776.8 2019.5,1771.0 2029.5,1765.5 2039.5,1760.3 2049.5,1755.5 2059.5,1750.9 2069.5,1746.6 2079.5,1742.5 2089.5,1738.6 2099.5,1734.9 2109.5,1731.2 2119.5,1727.4 2129.5,1723.5 2139.5,1719.4 2149.5,1715.2 2159.5,1710.8 2169.5,1706.2 2179.5,1701.4 2189.5,1696.2 2199.5,1690.6 2209.5,1684.6 2219.5,1678.0 2229.5,1671.0 2239.5,1663.7 2249.5,1656.3 2259.5,1648.9 2269.5,1641.6 2279.5,1634.4 2289.5,1627.2 2299.5,1620.1 2309.5,1613.0 2319.5,1606.0 2329.5,1599.0 2339.5,1592.2 2349.5,1585.7 2359.5,1579.6 2369.5,1574.1 2379.5,1569.1 2389.5,1564.6 2399.5,1560.2 2409.5,1556.0 2419.5,1551.6 2429.5,1547.0 2439.5,1541.9 2449.5,1536.2 2459.5,1530.0 2469.5,1523.5 2479.5,1516.6 2489.5,1509.6 2499.5,1502.4 2509.5,1495.2 2519.5,1488.0 2529.5,1480.9 2539.5,1473.9 2549.5,1467.1 2559.5,1460.6 2569.5,1454.3 2579.5,1448.1 2589.5,1441.9 2599.5,1435.7 2609.5,1429.3 2619.5,1422.9 2629.5,1416.3 2639.5,1409.7 2649.5,1403.1 2659.5,1396.4 2669.5,1389.8 2679.5,1383.3 2689.5,1376.8 2699.5,1370.5 2709.5,1364.2 2719.5,1358.0 2729.5,1351.8 2739.5,1345.4 2749.5,1338.9 2759.5,1332.3 2769.5,1325.4 2779.5,1318.5 2789.5,1311.6 2799.5,1304.7 2809.5,1297.8 2819.5,1290.9 2829.5,1283.9 2839.5,1276.7 2849.5,1269.2 2859.5,1261.3 2869.5,1253.2 2879.5,1244.9 2889.5,1236.4 2899.5,1227.9 2909.5,1219.4 2919.5,1210.9 2929.5,1202.4 2939.5,1194.2 2949.5,1186.3 2959.5,1178.8 2969.5,1171.7 2979.5,1164.9 2989.5,1158.4 2999.5,1152.1 3009.5,1145.7 3019.5,1139.4 3029.5,1133.0 3039.5,1126.5 3049.5,1119.7 3059.5,1112.5 3069.5,1104.8 3079.5,1096.7 3089.5,1088.2 3099.5,1079.5 3109.5,1070.8 3119.5,1062.1 3129.5,1053.6 3139.5,1045.2 3149.5,1037.0 3159.5,1028.9 3169.5,1020.9 3179.5,1012.9 3189.5,1004.8 3199.5,996.8 3209.5,988.7 3219.5,980.4 3229.5,971.9 3239.5,963.2 3249.5,954.4 3259.5,945.5 3269.5,936.9 3279.5,928.6 3289.5,920.9 3299.5,913.7 3309.5,906.8 3319.5,900.1 3329.5,893.5 3339.5,887.0 3349.5,880.5 3359.5,874.0 3369.5,867.5 3379.5,861.2 3389.5,854.9 3399.5,848.9 3409.5,843.0 3419.5,837.4 3429.5,831.8 3439.5,826.3 3449.5,820.9 3459.5,815.5 3469.5,810.1 3479.5,804.7 3489.5,799.3 3499.5,793.9 3509.5,788.6 3519.5,783.3 3529.5,778.1 3539.5,773.0 3549.5,767.9 3559.5,762.9 3569.5,757.9 3579.5,752.8 3589.5,747.8 3599.5,742.8 3609.5,737.9 3619.5,732.9 3629.5,728.1 3639.5,723.7 3649.5,719.8 3659.5,716.9 3669.5,715.0 3679.5,713.7 3689.5,712.4 3699.5,710.1 3709.5,706.3 3719.5,701.1 3729.5,694.9 3739.5,688.5 3749.5,682.5 3759.5,677.4 3769.5,673.1 3779.5,669.5 3789.5,666.3 3799.5,663.2 3809.5,660.3 3819.5,657.3 3829.5,654.3 3839.5,651.2 3849.5,647.9 3859.5,644.5 3869.5,640.8 3879.5,637.0 3889.5,633.1 3899.5,629.2 3909.5,625.2 3919.5,621.2 3929.5,617.3 3939.5,613.4 3949.5,609.7 3959.5,606.1 3969.5,602.7 3979.5,599.5 3989.5,596.3 3999.5,593.3 4009.5,590.3 4019.5,587.3 4029.5,584.3 4039.5,581.4 4049.5,578.5 4059.5,575.6 4069.5,572.9 4079.5,570.3 4089.5,567.7 4099.5,565.2 4109.5,562.6 4119.5,560.1 4129.5,557.6 4139.5,555.0 4149.5,552.3 4159.5,549.3 4169.5,546.2 4179.5,542.9 4189.5,539.3 4199.5,535.6 4209.5,531.8 4219.5,528.0 4229.5,524.2 4239.5,520.4 4249.5,516.6 4259.5,512.7 4269.5,509.0 4279.5,505.2 4289.5,501.6 4299.5,498.1 4309.5,494.8 4319.5,491.7 4329.5,488.6 4339.5,485.6 4349.5,482.7 4359.5,479.9 4369.5,477.3 4379.5,475.1 4389.5,473.3 4399.5,472.2 4409.5,471.6 4419.5,471.3 4429.5,471.4 4439.5,471.6 4449.5,471.9 4459.5,472.2 4469.5,472.7 4479.5,473.3 4489.5,474.1 4499.5,475.0 4509.5,476.1 4519.5,477.3 4529.5,478.5 4539.5,479.7 4549.5,480.8 4559.5,481.7 4569.5,482.3 4579.5,482.6 4589.5,482.7 4599.5,482.5 4609.5,482.1 4619.5,481.6 4629.5,481.2 4639.5,480.6 4649.5,480.1 4659.5,479.6 4669.5,479.1 4679.5,478.6 4689.5,478.1 4699.5,477.6 4707.6,477.2" stroke="#aaaaaa" stroke-width="12.5" stroke-opacity="1"/>
<polyline points="479.5,2221.5 489.5,2225.7 499.5,2229.7 509.5,2233.1 519.5,2235.9 529.5,2238.1 539.5,2239.7 549.5,2240.9 559.5,2241.8 569.5,2242.4 579.5,2243.0 589.5,2243.6 599.5,2244.2 609.5,2244.7 619.5,2245.0 629.5,2245.0 639.5,2244.6 649.5,2243.9 659.5,2242.9 669.5,2241.8 679.5,2240.9 689.5,2240.2 699.5,2239.7 709.5,2239.3 719.5,2239.0 729.5,2238.6 739.5,2238.2 749.5,2237.6 759.5,2236.9 769.5,2235.9 779.5,2234.7 789.5,2233.4 799.5,2232.0 809.5,2230.6 819.5,2229.5 829.5,2228.8 839.5,2228.3 849.5,2228.0 859.5,2227.8 869.5,2227.5 879.5,2227.0 889.5,2226.4 899.5,2225.5 909.5,2224.3 919.5,2222.7 929.5,2220.9 939.5,2218.7 949.5,2216.3 959.5,2213.8 969.5,2211.3 979.5,2208.9 989.5,2206.6 999.5,2204.6 1009.5,2202.8 1019.5,2201.3 1029.5,2199.8 1039.5,2198.5 1049.5,2197.2 1059.5,2196.1 1069.5,2195.1 1079.5,2194.1 1089.5,2193.3 1099.5,2192.6 1109.5,2192.0 1119.5,2191.5 1129.5,2191.3 1139.5,2191.3 1149.5,2191.5 1159.5,2192.0 1169.5,2192.6 1179.5,2193.1 1189.5,2193.4 1199.5,2193.4 1209.5,2193.2 1219.5,2192.6 1229.5,2191.7 1239.5,2190.5 1249.5,2189.0 1259.5,2187.2 1269.5,2185.3 1279.5,2183.2 1289.5,2181.1 1299.5,2179.0 1309.5,2176.8 1319.5,2174.6 1329.5,2172.4 1339.5,2170.2 1349.5,2168.0 1359.5,2165.8 1369.5,2163.5 1379.5,2161.4 1389.5,2159.2 1399.5,2157.2 1409.5,2155.2 1419.5,2153.3 1429.5,2151.5 1439.5,2149.8 1449.5,2148.1 1459.5,2146.4 1469.5,2144.8 1479.5,2143.1 1489.5,2141.4 1499.5,2139.7 1509.5,2137.9 1519.5,2136.0 1529.5,2134.0 1539.5,2131.8 1549.5,2129.4 1559.5,2126.8 1569.5,2124.2 1579.5,2121.6 1589.5,2118.9 1599.5,2116.3 1609.5,2113.6 1619.5,2110.9 1629.5,2108.3 1639.5,2105.6 1649.5,2102.9 1659.5,2100.3 1669.5,2097.6 1679.5,2094.9 1689.5,2092.3 1699.5,2089.6 1709.5,2086.9 1719.5,2084.3 1729.5,2081.6 1739.5,2078.9 1749.5,2076.2 1759.5,2073.5 1769.5,2070.7 1779.5,2067.8 1789.5,2064.8 1799.5,2061.8 1809.5,2058.6 1819.5,2055.5 1829.5,2052.3 1839.5,2049.1 1849.5,2045.8 1859.5,2042.4 1869.5,2038.8 1879.5,2035.0 1889.5,2030.8 1899.5,2026.3 1909.5,2021.6 1919.5,2016.7 1929.5,2011.7 1939.5,2006.7 1949.5,2001.7 1959.5,1996.9 1969.5,1992.3 1979.5,1988.1 1989.5,1984.4 1999.5,1981.1 2009.5,1978.1 2019.5,1975.3 2029.5,1972.4 2039.5,1969.2 2049.5,1965.4 2059.5,1960.9 2069.5,1955.7 2079.5,1949.9 2089.5,1943.9 2099.5,1937.6 2109.5,1931.4 2119.5,1925.2 2129.5,1919.1 2139.5,1913.0 2149.5,1907.0 2159.5,1901.1 2169.5,1895.2 2179.5,1889.4 2189.5,1883.5 2199.5,1877.7 2209.5,1871.9 2219.5,1866.2 2229.5,1860.5 2239.5,1854.9 2249.5,1849.4 2259.5,1844.1 2269.5,1839.0 2279.5,1833.9 2289.5,1828.8 2299.5,1823.9 2309.5,1818.9 2319.5,1813.9 2329.5,1808.9 2339.5,1804.0 2349.5,1799.1 2359.5,1794.2 2369.5,1789.4 2379.5,1784.6 2389.5,1779.9 2399.5,1775.1 2409.5,1770.2 2419.5,1765.1 2429.5,1759.5 2439.5,1753.2 2449.5,1746.2 2459.5,1738.4 2469.5,1730.0 2479.5,1721.3 2489.5,1712.3 2499.5,1703.3 2509.5,1694.1 2519.5,1685.0 2529.5,1675.8 2539.5,1666.5 2549.5,1657.2 2559.5,1647.9 2569.5,1638.5 2579.5,1629.1 2589.5,1619.6 2599.5,1610.1 2609.5,1600.6 2619.5,1591.2 2629.5,1581.7 2639.5,1572.2 2649.5,1562.7 2659.5,1553.2 2669.5,1543.8 2679.5,1534.3 2689.5,1524.8 2699.5,1515.3 2709.5,1505.9 2719.5,1496.5 2729.5,1487.2 2739.5,1478.2 2749.5,1469.5 2759.5,1461.4 2769.5,1453.8 2779.5,1446.7 2789.5,1439.9 2799.5,1433.2 2809.5,1426.7 2819.5,1420.2 2829.5,1413.7 2839.5,1407.2 2849.5,1400.7 2859.5,1394.2 2869.5,1387.7 2879.5,1381.2 2889.5,1374.7 2899.5,1368.2 2909.5,1361.7 2919.5,1355.1 2929.5,1348.5 2939.5,1341.8 2949.5,1334.8 2959.5,1327.4 2969.5,1319.5 2979.5,1311.2 2989.5,1302.4 2999.5,1293.5 3009.5,1284.4 3019.5,1275.2 3029.5,1266.0 3039.5,1256.8 3049.5,1247.6 3059.5,1238.5 3069.5,1229.5 3079.5,1220.7 3089.5,1212.1 3099.5,1203.9 3109.5,1196.1 3119.5,1188.5 3129.5,1181.0 3139.5,1173.7 3149.5,1166.4 3159.5,1159.1 3169.5,1151.9 3179.5,1144.5 3189.5,1137.1 3199.5,1129.6 3209.5,1121.9 3219.5,1114.0 3229.5,1105.8 3239.5,1097.3 3249.5,1088.2 3259.5,1078.8 3269.5,1069.0 3279.5,1059.2 3289.5,1049.5 3299.5,1040.3 3309.5,1031.7 3319.5,1023.6 3329.5,1015.9 3339.5,1008.5 3349.5,1001.1 3359.5,993.9 3369.5,986.7 3379.5,979.4 3389.5,972.2 3399.5,964.9 3409.5,957.7 3419.5,950.5 3429.5,943.2 3439.5,936.0 3449.5,928.8 3459.5,921.5 3469.5,914.3 3479.5,907.0 3489.5,899.8 3499.5,892.6 3509.5,885.3 3519.5,878.1 3529.5,870.9 3539.5,863.6 3549.5,856.4 3559.5,849.1 3569.5,841.9 3579.5,834.7 3589.5,827.4 3599.5,820.2 3609.5,813.0 3619.5,805.8 3629.5,798.7 3639.5,791.8 3649.5,785.3 3659.5,779.6 3669.5,774.7 3679.5,770.8 3689.5,767.7 3699.5,765.2 3709.5,763.0 3719.5,760.9 3729.5,758.7 3739.5,756.1 3749.5,753.1 3759.5,749.6 3769.5,745.6 3779.5,741.2 3789.5,736.7 3799.5,732.1 3809.5,727.4 3819.5,722.7 3829.5,718.0 3839.5,713.3 3849.5,708.6 3859.5,703.9 3869.5,699.2 3879.5,694.5 3889.5,689.8 3899.5,685.1 3909.5,680.4 3919.5,675.8 3929.5,671.3 3939.5,667.1 3949.5,663.2 3959.5,660.0 3969.5,657.4 3979.5,655.3 3989.5,653.7 3999.5,652.2 4009.5,650.9 4019.5,649.7 4029.5,648.4 4039.5,647.2 4049.5,645.9 4059.5,644.7 4069.5,643.4 4079.5,642.2 4089.5,640.9 4099.5,639.7 4109.5,638.4 4119.5,637.1 4129.5,635.8 4139.5,634.5 4149.5,633.0 4159.5,631.3 4169.5,629.4 4179.5,627.2 4189.5,624.8 4199.5,622.3 4209.5,619.8 4219.5,617.2 4229.5,614.8 4239.5,612.6 4249.5,610.6 4259.5,608.7 4269.5,607.1 4279.5,605.6 4289.5,604.1 4299.5,602.6 4309.5,601.0 4319.5,599.5 4329.5,597.9 4339.5,596.3 4349.5,594.7 4359.5,593.1 4369.5,591.6 4379.5,590.0 4389.5,588.4 4399.5,586.8 4409.5,585.2 4419.5,583.6 4429.5,582.0 4439.5,580.4 4449.5,578.8 4459.5,577.2 4469.5,575.6 4479.5,574.0 4489.5,572.5 4499.5,570.9 4509.5,569.3 4519.5,567.7 4529.5,566.1 4539.5,564.6 4549.5,563.1 4559.5,561.7 4569.5,560.5 4579.5,559.5 4589.5,558.6 4599.5,557.9 4609.5,557.3 4619.5,556.8 4629.5,556.3 4639.5,555.8 4649.5,555.2 4659.5,554.7 4669.5,554.2 4679.5,553.7 4689.5,553.2 4699.5,552.8 4707.6,552.3" stroke="#999999" stroke-width="12.5" stroke-opacity="1"/>
<polyline points="479.5,2221.5 489.5,2219.0 499.5,2216.5 509.5,2214.2 519.5,2212.1 529.5,2210.1 539.5,2208.4 549.5,2206.8 559.5,2205.3 569.5,2203.9 579.5,2202.5 589.5,2201.2 599.5,2199.8 609.5,2198.4 619.5,2197.0 629.5,2195.6 639.5,2194.1 649.5,2192.6 659.5,2191.0 669.5,2189.5 679.5,2187.9 689.5,2186.4 699.5,2184.9 709.5,2183.3 719.5,2181.7 729.5,2180.1 739.5,2178.5 749.5,2176.8 759.5,2175.1 769.5,2173.4 779.5,2171.7 789.5,2169.7 799.5,2167.3 809.5,2164.7 819.5,2161.7 829.5,2158.4 839.5,2155.1 849.5,2151.8 859.5,2148.6 869.5,2145.5 879.5,2142.4 889.5,2139.5 899.5,2136.6 909.5,2134.0 919.5,2131.6 929.5,2129.6 939.5,2128.0 949.5,2126.8 959.5,2126.0 969.5,2125.5 979.5,2125.3 989.5,2125.4 999.5,2125.5 1009.5,2125.7 1019.5,2125.9 1029.5,2126.2 1039.5,2126.5 1049.5,2126.8 1059.5,2127.3 1069.5,2128.0 1079.5,2128.8 1089.5,2129.7 1099.5,2130.7 1109.5,2131.8 1119.5,2132.9 1129.5,2133.9 1139.5,2134.7 1149.5,2135.1 1159.5,2135.1 1169.5,2134.5 1179.5,2133.2 1189.5,2131.5 1199.5,2129.5 1209.5,2127.3 1219.5,2125.0 1229.5,2122.6 1239.5,2120.3 1249.5,2118.0 1259.5,2115.7 1269.5,2113.4 1279.5,2111.2 1289.5,2109.1 1299.5,2107.2 1309.5,2105.5 1319.5,2103.8 1329.5,2102.3 1339.5,2100.6 1349.5,2098.9 1359.5,2097.0 1369.5,2095.1 1379.5,2093.2 1389.5,2091.3 1399.5,2089.5 1409.5,2087.7 1419.5,2085.8 1429.5,2083.8 1439.5,2081.7 1449.5,2079.5 1459.5,2077.2 1469.5,2074.6 1479.5,2072.0 1489.5,2069.2 1499.5,2066.3 1509.5,2063.4 1519.5,2060.4 1529.5,2057.5 1539.5,2054.5 1549.5,2051.5 1559.5,2048.5 1569.5,2045.5 1579.5,2042.5 1589.5,2039.5 1599.5,2036.5 1609.5,2033.5 1619.5,2030.5 1629.5,2027.4 1639.5,2024.4 1649.5,2021.4 1659.5,2018.3 1669.5,2015.2 1679.5,2012.0 1689.5,2008.8 1699.5,2005.5 1709.5,2002.2 1719.5,1998.8 1729.5,1995.3 1739.5,1991.8 1749.5,1988.2 1759.5,1984.6 1769.5,1981.0 1779.5,1977.4 1789.5,1973.7 1799.5,1970.0 1809.5,1966.2 1819.5,1962.4 1829.5,1958.5 1839.5,1954.5 1849.5,1950.4 1859.5,1946.3 1869.5,1942.1 1879.5,1937.9 1889.5,1933.5 1899.5,1929.1 1909.5,1924.7 1919.5,1920.1 1929.5,1915.6 1939.5,1911.0 1949.5,1906.4 1959.5,1901.8 1969.5,1897.3 1979.5,1892.7 1989.5,1888.0 1999.5,1883.1 2009.5,1877.9 2019.5,1872.2 2029.5,1866.1 2039.5,1859.6 2049.5,1852.9 2059.5,1846.5 2069.5,1840.2 2079.5,1834.2 2089.5,1828.4 2099.5,1822.8 2109.5,1817.1 2119.5,1811.6 2129.5,1806.1 2139.5,1800.7 2149.5,1795.4 2159.5,1790.3 2169.5,1785.4 2179.5,1780.6 2189.5,1775.9 2199.5,1771.4 2209.5,1766.7 2219.5,1761.9 2229.5,1756.7 2239.5,1751.0 2249.5,1745.1 2259.5,1739.1 2269.5,1733.0 2279.5,1727.0 2289.5,1721.1 2299.5,1715.3 2309.5,1709.6 2319.5,1704.0 2329.5,1698.7 2339.5,1693.5 2349.5,1688.6 2359.5,1683.7 2369.5,1678.9 2379.5,1674.2 2389.5,1669.3 2399.5,1664.2 2409.5,1658.8 2419.5,1653.0 2429.5,1646.7 2439.5,1640.1 2449.5,1633.2 2459.5,1626.1 2469.5,1618.8 2479.5,1611.2 2489.5,1603.6 2499.5,1595.8 2509.5,1588.0 2519.5,1580.2 2529.5,1572.3 2539.5,1564.5 2549.5,1556.6 2559.5,1548.8 2569.5,1540.9 2579.5,1533.1 2589.5,1525.2 2599.5,1517.4 2609.5,1509.5 2619.5,1501.7 2629.5,1493.8 2639.5,1485.9 2649.5,1478.1 2659.5,1470.2 2669.5,1462.4 2679.5,1454.5 2689.5,1446.7 2699.5,1438.8 2709.5,1431.0 2719.5,1423.1 2729.5,1415.3 2739.5,1407.4 2749.5,1399.6 2759.5,1391.7 2769.5,1383.8 2779.5,1375.7 2789.5,1367.5 2799.5,1359.0 2809.5,1350.1 2819.5,1341.0 2829.5,1331.7 2839.5,1322.2 2849.5,1312.5 2859.5,1302.7 2869.5,1292.6 2879.5,1282.4 2889.5,1272.2 2899.5,1262.0 2909.5,1252.0 2919.5,1242.3 2929.5,1233.1 2939.5,1224.3 2949.5,1215.8 2959.5,1207.6 2969.5,1199.5 2979.5,1191.5 2989.5,1183.5 2999.5,1175.5 3009.5,1167.5 3019.5,1159.4 3029.5,1151.4 3039.5,1143.2 3049.5,1135.0 3059.5,1126.7 3069.5,1118.4 3079.5,1109.9 3089.5,1101.5 3099.5,1093.1 3109.5,1084.8 3119.5,1076.6 3129.5,1068.5 3139.5,1060.5 3149.5,1052.7 3159.5,1045.1 3169.5,1037.8 3179.5,1030.9 3189.5,1024.2 3199.5,1017.6 3209.5,1010.7 3219.5,1003.5 3229.5,995.6 3239.5,987.3 3249.5,979.2 3259.5,971.8 3269.5,965.3 3279.5,959.6 3289.5,953.8 3299.5,947.5 3309.5,940.2 3319.5,932.0 3329.5,923.1 3339.5,914.1 3349.5,905.6 3359.5,897.8 3369.5,890.9 3379.5,884.8 3389.5,879.2 3399.5,874.0 3409.5,868.9 3419.5,863.9 3429.5,859.0 3439.5,854.1 3449.5,849.3 3459.5,844.7 3469.5,840.3 3479.5,836.0 3489.5,831.9 3499.5,827.8 3509.5,823.8 3519.5,819.8 3529.5,815.7 3539.5,811.6 3549.5,807.3 3559.5,802.8 3569.5,798.0 3579.5,793.0 3589.5,787.8 3599.5,782.4 3609.5,777.0 3619.5,771.5 3629.5,765.9 3639.5,760.3 3649.5,754.6 3659.5,748.7 3669.5,742.6 3679.5,736.2 3689.5,729.6 3699.5,722.9 3709.5,716.1 3719.5,709.4 3729.5,702.9 3739.5,696.9 3749.5,691.5 3759.5,686.8 3769.5,682.7 3779.5,679.0 3789.5,675.6 3799.5,672.4 3809.5,669.2 3819.5,666.0 3829.5,662.8 3839.5,659.7 3849.5,656.5 3859.5,653.3 3869.5,650.2 3879.5,647.0 3889.5,643.8 3899.5,640.6 3909.5,637.5 3919.5,634.3 3929.5,631.1 3939.5,627.9 3949.5,624.8 3959.5,621.6 3969.5,618.4 3979.5,615.3 3989.5,612.1 3999.5,608.9 4009.5,605.7 4019.5,602.6 4029.5,599.4 4039.5,596.2 4049.5,593.1 4059.5,589.9 4069.5,586.7 4079.5,583.5 4089.5,580.4 4099.5,577.2 4109.5,574.0 4119.5,570.8 4129.5,567.7 4139.5,564.5 4149.5,561.3 4159.5,558.2 4169.5,555.0 4179.5,551.8 4189.5,548.6 4199.5,545.5 4209.5,542.3 4219.5,539.1 4229.5,536.0 4239.5,532.8 4249.5,529.6 4259.5,526.5 4269.5,523.4 4279.5,520.4 4289.5,517.6 4299.5,515.0 4309.5,512.7 4319.5,510.7 4329.5,508.8 4339.5,507.0 4349.5,505.3 4359.5,503.7 4369.5,502.0 4379.5,500.3 4389.5,498.7 4399.5,497.0 4409.5,495.4 4419.5,493.7 4429.5,492.1 4439.5,490.5 4449.5,488.9 4459.5,487.4 4469.5,485.9 4479.5,484.4 4489.5,482.9 4499.5,481.4 4509.5,479.9 4519.5,478.4 4529.5,476.9 4539.5,475.4 4549.5,474.0 4559.5,472.7 4569.5,471.5 4579.5,470.4 4589.5,469.5 4599.5,468.6 4609.5,467.9 4619.5,467.2 4629.5,466.5 4639.5,465.8 4649.5,465.2 4659.5,464.5 4669.5,463.8 4679.5,463.1 4689.5,462.5 4699.5,461.9 4707.6,461.2" stroke="#888888" stroke-width="12.5" stroke-opacity="1"/>
<polyline points="479.5,2221.5 489.5,2220.2 499.5,2218.8 509.5,2217.4 519.5,2215.9 529.5,2214.5 539.5,2213.0 549.5,2211.7 559.5,2210.5 569.5,2209.6 579.5,2208.9 589.5,2208.4 599.5,2208.2 609.5,2208.1 619.5,2208.3 629.5,2208.5 639.5,2208.9 649.5,2209.3 659.5,2209.8 669.5,2210.3 679.5,2210.8 689.5,2211.3 699.5,2211.9 709.5,2212.4 719.5,2213.0 729.5,2213.6 739.5,2214.1 749.5,2214.6 759.5,2215.1 769.5,2215.4 779.5,2215.7 789.5,2215.9 799.5,2216.1 809.5,2216.1 819.5,2216.1 829.5,2216.1 839.5,2216.1 849.5,2216.2 859.5,2216.4 869.5,2216.8 879.5,2217.2 889.5,2217.9 899.5,2218.7 909.5,2219.7 919.5,2220.8 929.5,2222.0 939.5,2223.3 949.5,2224.4 959.5,2225.4 969.5,2226.1 979.5,2226.5 989.5,2226.5 999.5,2226.2 1009.5,2225.4 1019.5,2224.3 1029.5,2222.9 1039.5,2221.3 1049.5,2219.4 1059.5,2217.3 1069.5,2215.0 1079.5,2212.6 1089.5,2210.0 1099.5,2207.2 1109.5,2204.2 1119.5,2201.2 1129.5,2198.1 1139.5,2194.9 1149.5,2191.7 1159.5,2188.4 1169.5,2185.2 1179.5,2182.1 1189.5,2179.2 1199.5,2176.8 1209.5,2175.0 1219.5,2173.8 1229.5,2173.3 1239.5,2173.2 1249.5,2173.4 1259.5,2173.7 1269.5,2173.9 1279.5,2173.9 1289.5,2173.5 1299.5,2172.5 1309.5,2170.9 1319.5,2168.8 1329.5,2166.2 1339.5,2163.4 1349.5,2160.4 1359.5,2157.4 1369.5,2154.4 1379.5,2151.4 1389.5,2148.4 1399.5,2145.4 1409.5,2142.3 1419.5,2139.3 1429.5,2136.3 1439.5,2133.3 1449.5,2130.3 1459.5,2127.3 1469.5,2124.2 1479.5,2121.2 1489.5,2118.2 1499.5,2115.2 1509.5,2112.2 1519.5,2109.2 1529.5,2106.1 1539.5,2103.1 1549.5,2100.1 1559.5,2097.1 1569.5,2094.1 1579.5,2091.1 1589.5,2088.1 1599.5,2085.1 1609.5,2082.2 1619.5,2079.3 1629.5,2076.5 1639.5,2073.7 1649.5,2070.9 1659.5,2068.1 1669.5,2065.2 1679.5,2062.3 1689.5,2059.1 1699.5,2055.7 1709.5,2052.0 1719.5,2048.1 1729.5,2044.1 1739.5,2039.9 1749.5,2035.8 1759.5,2031.6 1769.5,2027.4 1779.5,2023.1 1789.5,2018.9 1799.5,2014.6 1809.5,2010.4 1819.5,2006.2 1829.5,2002.2 1839.5,1998.3 1849.5,1994.5 1859.5,1990.9 1869.5,1987.3 1879.5,1983.8 1889.5,1980.3 1899.5,1976.7 1909.5,1973.2 1919.5,1969.6 1929.5,1965.9 1939.5,1962.2 1949.5,1958.5 1959.5,1954.8 1969.5,1951.0 1979.5,1947.1 1989.5,1942.9 1999.5,1938.3 2009.5,1933.4 2019.5,1928.2 2029.5,1922.7 2039.5,1917.1 2049.5,1911.4 2059.5,1905.7 2069.5,1899.9 2079.5,1894.2 2089.5,1888.4 2099.5,1882.7 2109.5,1876.9 2119.5,1871.2 2129.5,1865.5 2139.5,1859.7 2149.5,1854.0 2159.5,1848.2 2169.5,1842.5 2179.5,1836.7 2189.5,1831.0 2199.5,1825.2 2209.5,1819.5 2219.5,1813.8 2229.5,1808.0 2239.5,1802.3 2249.5,1796.6 2259.5,1790.9 2269.5,1785.2 2279.5,1779.6 2289.5,1774.0 2299.5,1768.4 2309.5,1762.8 2319.5,1757.3 2329.5,1751.9 2339.5,1746.5 2349.5,1741.2 2359.5,1736.0 2369.5,1730.9 2379.5,1725.8 2389.5,1720.9 2399.5,1715.9 2409.5,1710.9 2419.5,1705.8 2429.5,1700.6 2439.5,1695.3 2449.5,1689.6 2459.5,1683.7 2469.5,1677.4 2479.5,1670.7 2489.5,1663.6 2499.5,1656.2 2509.5,1648.3 2519.5,1640.3 2529.5,1632.0 2539.5,1623.7 2549.5,1615.4 2559.5,1607.1 2569.5,1598.9 2579.5,1590.8 2589.5,1582.8 2599.5,1574.9 2609.5,1567.1 2619.5,1559.2 2629.5,1551.4 2639.5,1543.6 2649.5,1535.9 2659.5,1528.1 2669.5,1520.3 2679.5,1512.5 2689.5,1504.7 2699.5,1496.9 2709.5,1489.2 2719.5,1481.4 2729.5,1473.6 2739.5,1465.8 2749.5,1458.0 2759.5,1450.2 2769.5,1442.5 2779.5,1434.7 2789.5,1426.9 2799.5,1419.1 2809.5,1411.3 2819.5,1403.5 2829.5,1395.8 2839.5,1388.0 2849.5,1380.3 2859.5,1372.6 2869.5,1364.9 2879.5,1357.3 2889.5,1349.7 2899.5,1342.3 2909.5,1334.8 2919.5,1327.4 2929.5,1320.0 2939.5,1312.5 2949.5,1305.0 2959.5,1297.5 2969.5,1289.8 2979.5,1282.0 2989.5,1274.0 2999.5,1266.0 3009.5,1257.9 3019.5,1249.9 3029.5,1241.8 3039.5,1233.8 3049.5,1226.0 3059.5,1218.3 3069.5,1210.8 3079.5,1203.5 3089.5,1196.3 3099.5,1189.2 3109.5,1182.0 3119.5,1174.8 3129.5,1167.3 3139.5,1159.5 3149.5,1151.4 3159.5,1142.9 3169.5,1134.0 3179.5,1124.7 3189.5,1115.3 3199.5,1105.7 3209.5,1096.3 3219.5,1087.1 3229.5,1078.0 3239.5,1069.1 3249.5,1060.2 3259.5,1051.2 3269.5,1042.3 3279.5,1033.3 3289.5,1024.4 3299.5,1015.7 3309.5,1007.1 3319.5,998.9 3329.5,991.0 3339.5,983.5 3349.5,976.4 3359.5,969.6 3369.5,963.1 3379.5,956.7 3389.5,950.6 3399.5,944.5 3409.5,938.4 3419.5,932.4 3429.5,926.6 3439.5,921.0 3449.5,915.8 3459.5,911.0 3469.5,906.5 3479.5,902.3 3489.5,898.2 3499.5,894.2 3509.5,890.3 3519.5,886.4 3529.5,882.4 3539.5,878.5 3549.5,874.6 3559.5,870.7 3569.5,866.7 3579.5,862.8 3589.5,858.9 3599.5,854.9 3609.5,851.0 3619.5,847.0 3629.5,843.1 3639.5,839.2 3649.5,835.3 3659.5,831.6 3669.5,828.1 3679.5,824.7 3689.5,821.4 3699.5,818.3 3709.5,815.1 3719.5,811.9 3729.5,808.6 3739.5,805.2 3749.5,801.7 3759.5,798.0 3769.5,794.3 3779.5,790.4 3789.5,786.6 3799.5,782.8 3809.5,779.1 3819.5,775.5 3829.5,772.1 3839.5,769.0 3849.5,766.0 3859.5,763.2 3869.5,760.4 3879.5,757.7 3889.5,754.9 3899.5,752.1 3909.5,749.1 3919.5,746.0 3929.5,742.8 3939.5,739.6 3949.5,736.3 3959.5,733.0 3969.5,729.8 3979.5,726.7 3989.5,723.7 3999.5,720.8 4009.5,718.0 4019.5,715.3 4029.5,712.5 4039.5,709.7 4049.5,706.7 4059.5,703.6 4069.5,700.2 4079.5,696.6 4089.5,692.8 4099.5,688.9 4109.5,684.9 4119.5,681.0 4129.5,677.0 4139.5,673.0 4149.5,669.0 4159.5,665.0 4169.5,661.0 4179.5,657.0 4189.5,653.2 4199.5,649.5 4209.5,646.2 4219.5,643.2 4229.5,640.7 4239.5,638.5 4249.5,636.6 4259.5,634.9 4269.5,633.3 4279.5,631.9 4289.5,630.8 4299.5,630.0 4309.5,629.6 4319.5,629.6 4329.5,629.9 4339.5,630.2 4349.5,630.3 4359.5,630.2 4369.5,629.7 4379.5,628.7 4389.5,627.3 4399.5,625.6 4409.5,623.7 4419.5,621.7 4429.5,619.7 4439.5,617.8 4449.5,615.8 4459.5,613.9 4469.5,612.0 4479.5,610.3 4489.5,608.7 4499.5,607.2 4509.5,605.9 4519.5,604.6 4529.5,603.3 4539.5,602.1 4549.5,600.8 4559.5,599.6 4569.5,598.5 4579.5,597.3 4589.5,596.2 4599.5,595.2 4609.5,594.2 4619.5,593.1 4629.5,592.1 4639.5,591.1 4649.5,590.1 4659.5,589.1 4669.5,588.1 4679.5,587.1 4689.5,586.1 4699.5,585.1 4707.6,584.2" stroke="#777777" stroke-width="12.5" stroke-opacity="1"/>
<polyline points="479.5,2221.5 489.5,2218.8 499.5,2216.1 509.5,2213.6 519.5,2211.3 529.5,2209.3 539.5,2207.4 549.5,2205.8 559.5,2204.3 569.5,2202.9 579.5,2201.5 589.5,2200.2 599.5,2198.8 609.5,2197.4 619.5,2196.0 629.5,2194.6 639.5,2193.1 649.5,2191.6 659.5,2190.0 669.5,2188.5 679.5,2186.9 689.5,2185.4 699.5,2183.9 709.5,2182.3 719.5,2180.7 729.5,2179.1 739.5,2177.5 749.5,2175.8 759.5,2174.2 769.5,2172.6 779.5,2171.1 789.5,2169.6 799.5,2168.2 809.5,2166.9 819.5,2165.5 829.5,2164.2 839.5,2162.8 849.5,2161.5 859.5,2160.1 869.5,2158.7 879.5,2157.4 889.5,2156.0 899.5,2154.7 909.5,2153.5 919.5,2152.2 929.5,2151.0 939.5,2149.8 949.5,2148.7 959.5,2147.5 969.5,2146.4 979.5,2145.2 989.5,2144.0 999.5,2142.8 1009.5,2141.6 1019.5,2140.5 1029.5,2139.3 1039.5,2138.2 1049.5,2137.2 1059.5,2136.2 1069.5,2135.2 1079.5,2134.3 1089.5,2133.3 1099.5,2132.2 1109.5,2131.1 1119.5,2129.9 1129.5,2128.7 1139.5,2127.4 1149.5,2126.1 1159.5,2124.8 1169.5,2123.4 1179.5,2122.0 1189.5,2120.6 1199.5,2119.1 1209.5,2117.5 1219.5,2115.9 1229.5,2114.2 1239.5,2112.6 1249.5,2111.0 1259.5,2109.5 1269.5,2108.1 1279.5,2106.7 1289.5,2105.5 1299.5,2104.3 1309.5,2103.0 1319.5,2101.7 1329.5,2100.2 1339.5,2098.5 1349.5,2096.8 1359.5,2095.0 1369.5,2093.1 1379.5,2091.2 1389.5,2089.4 1399.5,2087.5 1409.5,2085.7 1419.5,2083.8 1429.5,2081.8 1439.5,2079.7 1449.5,2077.5 1459.5,2075.1 1469.5,2072.6 1479.5,2069.9 1489.5,2067.2 1499.5,2064.3 1509.5,2061.4 1519.5,2058.4 1529.5,2055.5 1539.5,2052.5 1549.5,2049.5 1559.5,2046.5 1569.5,2043.5 1579.5,2040.5 1589.5,2037.5 1599.5,2034.5 1609.5,2031.5 1619.5,2028.5 1629.5,2025.4 1639.5,2022.4 1649.5,2019.4 1659.5,2016.3 1669.5,2013.2 1679.5,2010.0 1689.5,2006.8 1699.5,2003.5 1709.5,2000.2 1719.5,1996.8 1729.5,1993.3 1739.5,1989.8 1749.5,1986.2 1759.5,1982.6 1769.5,1979.0 1779.5,1975.4 1789.5,1971.7 1799.5,1968.0 1809.5,1964.2 1819.5,1960.4 1829.5,1956.5 1839.5,1952.5 1849.5,1948.5 1859.5,1944.3 1869.5,1940.1 1879.5,1935.9 1889.5,1931.5 1899.5,1927.1 1909.5,1922.7 1919.5,1918.2 1929.5,1913.6 1939.5,1909.0 1949.5,1904.4 1959.5,1899.8 1969.5,1895.3 1979.5,1890.7 1989.5,1886.3 1999.5,1881.8 2009.5,1877.4 2019.5,1873.0 2029.5,1868.6 2039.5,1864.3 2049.5,1860.0 2059.5,1855.6 2069.5,1851.3 2079.5,1847.0 2089.5,1842.6 2099.5,1838.3 2109.5,1833.9 2119.5,1829.4 2129.5,1824.9 2139.5,1820.3 2149.5,1815.6 2159.5,1810.6 2169.5,1805.3 2179.5,1799.7 2189.5,1793.4 2199.5,1786.5 2209.5,1779.0 2219.5,1770.9 2229.5,1762.7 2239.5,1754.6 2249.5,1746.8 2259.5,1739.4 2269.5,1732.5 2279.5,1725.9 2289.5,1719.5 2299.5,1713.3 2309.5,1707.3 2319.5,1701.5 2329.5,1695.9 2339.5,1690.5 2349.5,1685.3 2359.5,1680.2 2369.5,1675.1 2379.5,1670.0 2389.5,1664.8 2399.5,1659.3 2409.5,1653.4 2419.5,1646.9 2429.5,1640.0 2439.5,1632.6 2449.5,1625.0 2459.5,1617.2 2469.5,1609.4 2479.5,1601.4 2489.5,1593.1 2499.5,1584.3 2509.5,1574.7 2519.5,1564.3 2529.5,1553.5 2539.5,1542.6 2549.5,1532.1 2559.5,1522.3 2569.5,1513.1 2579.5,1504.6 2589.5,1496.4 2599.5,1488.3 2609.5,1480.4 2619.5,1472.4 2629.5,1464.4 2639.5,1456.5 2649.5,1448.5 2659.5,1440.6 2669.5,1432.6 2679.5,1424.7 2689.5,1416.7 2699.5,1408.8 2709.5,1400.8 2719.5,1392.9 2729.5,1384.9 2739.5,1377.0 2749.5,1369.0 2759.5,1361.1 2769.5,1353.2 2779.5,1345.4 2789.5,1337.8 2799.5,1330.3 2809.5,1323.0 2819.5,1315.7 2829.5,1308.2 2839.5,1300.3 2849.5,1291.8 2859.5,1282.6 2869.5,1272.8 2879.5,1262.7 2889.5,1252.4 2899.5,1242.2 2909.5,1232.0 2919.5,1221.9 2929.5,1212.0 2939.5,1202.1 2949.5,1192.4 2959.5,1182.9 2969.5,1173.6 2979.5,1164.4 2989.5,1155.2 2999.5,1146.2 3009.5,1137.0 3019.5,1127.9 3029.5,1118.6 3039.5,1109.1 3049.5,1099.5 3059.5,1089.5 3069.5,1079.2 3079.5,1068.8 3089.5,1058.5 3099.5,1048.5 3109.5,1039.3 3119.5,1031.0 3129.5,1023.5 3139.5,1016.6 3149.5,1010.0 3159.5,1003.5 3169.5,997.1 3179.5,990.7 3189.5,984.5 3199.5,978.4 3209.5,972.4 3219.5,966.3 3229.5,960.1 3239.5,953.2 3249.5,945.6 3259.5,937.3 3269.5,928.7 3279.5,920.3 3289.5,912.4 3299.5,905.2 3309.5,898.6 3319.5,892.2 3329.5,885.7 3339.5,879.0 3349.5,871.8 3359.5,864.4 3369.5,856.7 3379.5,849.0 3389.5,841.5 3399.5,834.3 3409.5,827.6 3419.5,821.2 3429.5,815.1 3439.5,809.3 3449.5,803.6 3459.5,798.1 3469.5,792.7 3479.5,787.5 3489.5,782.2 3499.5,776.9 3509.5,771.3 3519.5,765.4 3529.5,758.9 3539.5,752.1 3549.5,744.9 3559.5,737.6 3569.5,730.6 3579.5,724.1 3589.5,718.2 3599.5,713.2 3609.5,708.9 3619.5,705.0 3629.5,701.1 3639.5,696.9 3649.5,692.2 3659.5,687.1 3669.5,681.7 3679.5,676.2 3689.5,670.9 3699.5,665.7 3709.5,660.8 3719.5,656.2 3729.5,651.8 3739.5,647.6 3749.5,643.5 3759.5,639.7 3769.5,636.1 3779.5,632.6 3789.5,629.2 3799.5,625.8 3809.5,622.3 3819.5,618.8 3829.5,615.2 3839.5,611.5 3849.5,607.7 3859.5,603.9 3869.5,600.1 3879.5,596.3 3889.5,592.7 3899.5,589.2 3909.5,585.7 3919.5,582.4 3929.5,579.0 3939.5,575.5 3949.5,572.0 3959.5,568.4 3969.5,564.7 3979.5,560.8 3989.5,556.9 3999.5,553.0 4009.5,549.2 4019.5,545.5 4029.5,542.1 4039.5,539.0 4049.5,536.3 4059.5,533.9 4069.5,531.7 4079.5,529.6 4089.5,527.4 4099.5,525.3 4109.5,522.9 4119.5,520.4 4129.5,517.8 4139.5,515.0 4149.5,512.3 4159.5,509.6 4169.5,507.1 4179.5,504.8 4189.5,502.6 4199.5,500.5 4209.5,498.4 4219.5,496.4 4229.5,494.4 4239.5,492.5 4249.5,490.6 4259.5,488.9 4269.5,487.1 4279.5,485.3 4289.5,483.2 4299.5,480.6 4309.5,477.3 4319.5,473.4 4329.5,469.1 4339.5,464.8 4349.5,460.6 4359.5,456.9 4369.5,453.6 4379.5,450.9 4389.5,448.6 4399.5,446.5 4409.5,444.6 4419.5,442.9 4429.5,441.5 4439.5,440.2 4449.5,439.1 4459.5,438.2 4469.5,437.4 4479.5,436.6 4489.5,436.0 4499.5,435.4 4509.5,434.8 4519.5,434.3 4529.5,433.8 4539.5,433.3 4549.5,432.8 4559.5,432.3 4569.5,431.8 4579.5,431.4 4589.5,431.0 4599.5,430.7 4609.5,430.8 4619.5,431.1 4629.5,431.8 4639.5,432.7 4649.5,433.8 4659.5,434.9 4669.5,435.8 4679.5,436.6 4689.5,437.3 4699.5,437.9 4707.6,438.5" stroke="#444444" stroke-width="12.5" stroke-opacity="1"/>
<polyline points="479.5,2221.5 489.5,2219.0 499.5,2216.4 509.5,2213.9 519.5,2211.3 529.5,2208.8 539.5,2206.2 549.5,2203.7 559.5,2201.1 569.5,2198.6 579.5,2196.1 589.5,2193.6 599.5,2191.2 609.5,2188.9 619.5,2186.8 629.5,2184.9 639.5,2183.0 649.5,2181.3 659.5,2179.7 669.5,2178.1 679.5,2176.7 689.5,2175.3 699.5,2174.0 709.5,2172.7 719.5,2171.6 729.5,2170.4 739.5,2169.3 749.5,2168.2 759.5,2166.9 769.5,2165.6 779.5,2164.0 789.5,2162.4 799.5,2160.7 809.5,2159.1 819.5,2157.7 829.5,2156.3 839.5,2155.1 849.5,2154.0 859.5,2152.9 869.5,2151.8 879.5,2150.7 889.5,2149.4 899.5,2147.9 909.5,2146.2 919.5,2144.0 929.5,2141.5 939.5,2138.7 949.5,2135.7 959.5,2132.6 969.5,2129.7 979.5,2127.0 989.5,2124.5 999.5,2122.3 1009.5,2120.4 1019.5,2118.7 1029.5,2117.2 1039.5,2116.0 1049.5,2115.2 1059.5,2114.8 1069.5,2115.0 1079.5,2115.7 1089.5,2116.5 1099.5,2117.2 1109.5,2117.4 1119.5,2116.9 1129.5,2115.7 1139.5,2114.0 1149.5,2111.9 1159.5,2109.7 1169.5,2107.6 1179.5,2105.6 1189.5,2103.9 1199.5,2102.3 1209.5,2100.8 1219.5,2099.6 1229.5,2098.5 1239.5,2097.5 1249.5,2096.5 1259.5,2095.4 1269.5,2093.9 1279.5,2092.2 1289.5,2090.1 1299.5,2088.0 1309.5,2085.9 1319.5,2084.0 1329.5,2082.3 1339.5,2080.6 1349.5,2079.1 1359.5,2077.5 1369.5,2075.7 1379.5,2073.6 1389.5,2071.1 1399.5,2068.1 1409.5,2064.6 1419.5,2060.6 1429.5,2056.3 1439.5,2051.8 1449.5,2047.4 1459.5,2042.9 1469.5,2038.7 1479.5,2034.8 1489.5,2031.2 1499.5,2028.2 1509.5,2025.6 1519.5,2023.3 1529.5,2021.1 1539.5,2018.8 1549.5,2016.4 1559.5,2013.6 1569.5,2010.5 1579.5,2007.3 1589.5,2004.2 1599.5,2001.6 1609.5,1999.4 1619.5,1997.8 1629.5,1996.5 1639.5,1995.5 1649.5,1994.6 1659.5,1993.9 1669.5,1993.2 1679.5,1992.5 1689.5,1991.6 1699.5,1990.4 1709.5,1988.8 1719.5,1986.7 1729.5,1984.4 1739.5,1981.8 1749.5,1979.1 1759.5,1976.3 1769.5,1973.6 1779.5,1971.1 1789.5,1968.8 1799.5,1967.0 1809.5,1965.4 1819.5,1964.0 1829.5,1962.4 1839.5,1960.4 1849.5,1957.8 1859.5,1954.6 1869.5,1950.8 1879.5,1946.8 1889.5,1942.5 1899.5,1938.1 1909.5,1933.7 1919.5,1929.2 1929.5,1924.6 1939.5,1920.0 1949.5,1915.4 1959.5,1910.8 1969.5,1906.3 1979.5,1901.7 1989.5,1897.3 1999.5,1892.8 2009.5,1888.4 2019.5,1884.0 2029.5,1879.6 2039.5,1875.3 2049.5,1871.0 2059.5,1866.6 2069.5,1862.3 2079.5,1858.0 2089.5,1853.6 2099.5,1849.3 2109.5,1844.9 2119.5,1840.4 2129.5,1835.9 2139.5,1831.3 2149.5,1826.6 2159.5,1821.7 2169.5,1816.6 2179.5,1811.4 2189.5,1806.0 2199.5,1800.5 2209.5,1794.9 2219.5,1789.3 2229.5,1783.7 2239.5,1778.0 2249.5,1772.4 2259.5,1766.8 2269.5,1761.3 2279.5,1755.8 2289.5,1750.3 2299.5,1744.8 2309.5,1739.3 2319.5,1733.8 2329.5,1728.2 2339.5,1722.5 2349.5,1716.8 2359.5,1711.0 2369.5,1705.0 2379.5,1698.9 2389.5,1692.7 2399.5,1686.4 2409.5,1680.0 2419.5,1673.5 2429.5,1666.9 2439.5,1660.3 2449.5,1653.5 2459.5,1646.6 2469.5,1639.6 2479.5,1632.6 2489.5,1625.3 2499.5,1618.0 2509.5,1610.6 2519.5,1603.2 2529.5,1595.7 2539.5,1588.3 2549.5,1580.8 2559.5,1573.3 2569.5,1565.9 2579.5,1558.4 2589.5,1551.0 2599.5,1543.5 2609.5,1536.1 2619.5,1528.7 2629.5,1521.2 2639.5,1513.8 2649.5,1506.4 2659.5,1499.0 2669.5,1491.6 2679.5,1484.1 2689.5,1476.7 2699.5,1469.3 2709.5,1461.9 2719.5,1454.5 2729.5,1447.0 2739.5,1439.6 2749.5,1432.2 2759.5,1424.8 2769.5,1417.3 2779.5,1409.9 2789.5,1402.5 2799.5,1395.1 2809.5,1387.7 2819.5,1380.2 2829.5,1372.8 2839.5,1365.4 2849.5,1357.9 2859.5,1350.5 2869.5,1343.0 2879.5,1335.5 2889.5,1328.0 2899.5,1320.4 2909.5,1312.9 2919.5,1305.3 2929.5,1297.7 2939.5,1290.1 2949.5,1282.4 2959.5,1274.8 2969.5,1267.3 2979.5,1259.7 2989.5,1252.2 2999.5,1244.8 3009.5,1237.3 3019.5,1229.9 3029.5,1222.5 3039.5,1215.0 3049.5,1207.6 3059.5,1200.1 3069.5,1192.5 3079.5,1184.9 3089.5,1177.0 3099.5,1169.0 3109.5,1160.7 3119.5,1152.1 3129.5,1143.2 3139.5,1134.2 3149.5,1125.4 3159.5,1116.9 3169.5,1108.8 3179.5,1101.0 3189.5,1093.3 3199.5,1085.8 3209.5,1078.3 3219.5,1070.8 3229.5,1063.3 3239.5,1055.9 3249.5,1048.6 3259.5,1041.4 3269.5,1034.2 3279.5,1027.1 3289.5,1020.1 3299.5,1013.1 3309.5,1006.1 3319.5,999.1 3329.5,992.2 3339.5,985.4 3349.5,978.8 3359.5,972.5 3369.5,966.3 3379.5,960.4 3389.5,954.7 3399.5,949.0 3409.5,943.4 3419.5,937.8 3429.5,932.2 3439.5,926.5 3449.5,920.7 3459.5,914.6 3469.5,908.0 3479.5,900.4 3489.5,891.7 3499.5,881.9 3509.5,871.1 3519.5,859.5 3529.5,847.6 3539.5,835.6 3549.5,823.6 3559.5,812.0 3569.5,801.1 3579.5,791.0 3589.5,781.8 3599.5,773.4 3609.5,765.7 3619.5,758.4 3629.5,751.2 3639.5,744.1 3649.5,736.8 3659.5,729.5 3669.5,721.9 3679.5,714.2 3689.5,706.2 3699.5,698.2 3709.5,690.1 3719.5,682.1 3729.5,674.1 3739.5,666.5 3749.5,659.1 3759.5,652.1 3769.5,645.3 3779.5,638.6 3789.5,632.0 3799.5,625.4 3809.5,618.8 3819.5,612.2 3829.5,605.6 3839.5,599.1 3849.5,592.7 3859.5,586.6 3869.5,581.0 3879.5,575.9 3889.5,571.6 3899.5,567.8 3909.5,564.6 3919.5,561.6 3929.5,558.7 3939.5,555.7 3949.5,552.7 3959.5,549.6 3969.5,546.4 3979.5,543.2 3989.5,540.3 3999.5,537.7 4009.5,535.5 4019.5,533.7 4029.5,532.2 4039.5,530.8 4049.5,529.6 4059.5,528.4 4069.5,527.2 4079.5,526.1 4089.5,524.9 4099.5,523.6 4109.5,522.1 4119.5,520.4 4129.5,518.4 4139.5,516.2 4149.5,513.9 4159.5,511.7 4169.5,509.6 4179.5,507.7 4189.5,506.1 4199.5,504.7 4209.5,503.4 4219.5,502.2 4229.5,501.0 4239.5,499.8 4249.5,498.6 4259.5,497.4 4269.5,496.2 4279.5,495.2 4289.5,494.2 4299.5,493.4 4309.5,492.9 4319.5,492.5 4329.5,492.3 4339.5,492.2 4349.5,492.1 4359.5,492.0 4369.5,491.9 4379.5,491.9 4389.5,491.8 4399.5,491.7 4409.5,491.6 4419.5,491.6 4429.5,491.5 4439.5,491.4 4449.5,491.4 4459.5,491.3 4469.5,491.2 4479.5,491.2 4489.5,491.1 4499.5,491.0 4509.5,491.0 4519.5,490.9 4529.5,490.9 4539.5,490.8 4549.5,490.8 4559.5,490.7 4569.5,490.5 4579.5,490.2 4589.5,489.5 4599.5,488.4 4609.5,486.9 4619.5,485.1 4629.5,483.2 4639.5,481.3 4649.5,479.6 4659.5,478.2 4669.5,477.1 4679.5,476.3 4689.5,475.7 4699.5,475.3 4703.0,474.9" stroke="#2a2a2a" stroke-width="12.5" stroke-opacity="1"/>
<polyline points="479.5,2221.5 489.5,2221.8 499.5,2221.9 509.5,2221.8 519.5,2221.5 529.5,2220.8 539.5,2219.8 549.5,2218.6 559.5,2217.2 569.5,2215.9 579.5,2214.5 589.5,2213.2 599.5,2211.8 609.5,2210.4 619.5,2209.0 629.5,2207.6 639.5,2206.1 649.5,2204.6 659.5,2203.0 669.5,2201.5 679.5,2199.9 689.5,2198.4 699.5,2196.9 709.5,2195.3 719.5,2193.8 729.5,2192.4 739.5,2191.1 749.5,2190.3 759.5,2190.0 769.5,2190.2 779.5,2190.8 789.5,2191.3 799.5,2191.4 809.5,2191.0 819.5,2190.1 829.5,2189.0 839.5,2187.8 849.5,2186.6 859.5,2185.6 869.5,2184.6 879.5,2183.6 889.5,2182.6 899.5,2181.6 909.5,2180.5 919.5,2179.3 929.5,2178.0 939.5,2176.8 949.5,2175.5 959.5,2174.3 969.5,2173.2 979.5,2172.1 989.5,2171.1 999.5,2170.1 1009.5,2169.1 1019.5,2168.1 1029.5,2167.1 1039.5,2166.1 1049.5,2165.1 1059.5,2164.2 1069.5,2163.5 1079.5,2163.1 1089.5,2163.0 1099.5,2163.3 1109.5,2164.1 1119.5,2165.0 1129.5,2165.8 1139.5,2166.5 1149.5,2167.0 1159.5,2167.1 1169.5,2167.0 1179.5,2166.8 1189.5,2166.6 1199.5,2166.5 1209.5,2166.4 1219.5,2166.6 1229.5,2166.9 1239.5,2167.3 1249.5,2167.8 1259.5,2168.3 1269.5,2168.7 1279.5,2168.9 1289.5,2168.8 1299.5,2168.4 1309.5,2167.4 1319.5,2166.1 1329.5,2164.4 1339.5,2162.5 1349.5,2160.5 1359.5,2158.6 1369.5,2156.6 1379.5,2154.7 1389.5,2153.0 1399.5,2151.6 1409.5,2150.5 1419.5,2149.7 1429.5,2149.3 1439.5,2149.0 1449.5,2148.9 1459.5,2148.7 1469.5,2148.4 1479.5,2148.0 1489.5,2147.4 1499.5,2146.8 1509.5,2146.2 1519.5,2145.5 1529.5,2144.7 1539.5,2143.8 1549.5,2142.7 1559.5,2141.3 1569.5,2139.6 1579.5,2137.5 1589.5,2135.3 1599.5,2133.0 1609.5,2130.6 1619.5,2128.4 1629.5,2126.4 1639.5,2124.6 1649.5,2123.1 1659.5,2121.9 1669.5,2120.7 1679.5,2119.7 1689.5,2118.7 1699.5,2117.8 1709.5,2116.8 1719.5,2115.8 1729.5,2114.5 1739.5,2112.9 1749.5,2110.8 1759.5,2108.3 1769.5,2105.2 1779.5,2101.6 1789.5,2097.6 1799.5,2092.9 1809.5,2087.8 1819.5,2082.1 1829.5,2076.3 1839.5,2070.5 1849.5,2065.1 1859.5,2060.2 1869.5,2055.8 1879.5,2051.9 1889.5,2048.1 1899.5,2044.4 1909.5,2040.7 1919.5,2036.9 1929.5,2032.9 1939.5,2028.8 1949.5,2024.3 1959.5,2019.3 1969.5,2013.8 1979.5,2007.8 1989.5,2001.2 1999.5,1994.2 2009.5,1987.0 2019.5,1979.6 2029.5,1972.0 2039.5,1964.3 2049.5,1956.6 2059.5,1948.8 2069.5,1941.2 2079.5,1934.0 2089.5,1927.2 2099.5,1921.1 2109.5,1915.6 2119.5,1910.4 2129.5,1905.3 2139.5,1900.0 2149.5,1894.4 2159.5,1888.4 2169.5,1882.3 2179.5,1876.2 2189.5,1870.2 2199.5,1864.5 2209.5,1858.9 2219.5,1853.4 2229.5,1847.9 2239.5,1842.4 2249.5,1836.6 2259.5,1830.7 2269.5,1824.5 2279.5,1818.0 2289.5,1811.5 2299.5,1804.7 2309.5,1797.6 2319.5,1790.4 2329.5,1783.0 2339.5,1775.6 2349.5,1768.4 2359.5,1761.8 2369.5,1755.8 2379.5,1750.6 2389.5,1745.8 2399.5,1741.4 2409.5,1737.1 2419.5,1732.6 2429.5,1727.8 2439.5,1722.3 2449.5,1716.1 2459.5,1709.2 2469.5,1701.9 2479.5,1694.3 2489.5,1686.6 2499.5,1679.0 2509.5,1671.4 2519.5,1663.9 2529.5,1656.3 2539.5,1648.6 2549.5,1640.6 2559.5,1632.3 2569.5,1623.9 2579.5,1615.3 2589.5,1606.8 2599.5,1598.4 2609.5,1590.3 2619.5,1582.4 2629.5,1574.7 2639.5,1567.1 2649.5,1559.5 2659.5,1552.0 2669.5,1544.5 2679.5,1536.9 2689.5,1529.3 2699.5,1521.6 2709.5,1513.8 2719.5,1505.8 2729.5,1497.8 2739.5,1489.7 2749.5,1481.5 2759.5,1473.3 2769.5,1465.2 2779.5,1457.0 2789.5,1448.9 2799.5,1440.9 2809.5,1433.1 2819.5,1425.5 2829.5,1418.1 2839.5,1410.8 2849.5,1403.5 2859.5,1396.1 2869.5,1388.5 2879.5,1380.6 2889.5,1372.7 2899.5,1364.6 2909.5,1356.6 2919.5,1348.6 2929.5,1340.7 2939.5,1333.0 2949.5,1325.4 2959.5,1318.0 2969.5,1310.6 2979.5,1303.3 2989.5,1296.0 2999.5,1288.6 3009.5,1281.1 3019.5,1273.3 3029.5,1265.3 3039.5,1257.0 3049.5,1248.6 3059.5,1240.1 3069.5,1231.4 3079.5,1222.5 3089.5,1213.4 3099.5,1204.2 3109.5,1194.9 3119.5,1185.5 3129.5,1176.0 3139.5,1166.6 3149.5,1157.1 3159.5,1147.7 3169.5,1138.2 3179.5,1128.7 3189.5,1119.3 3199.5,1109.9 3209.5,1100.5 3219.5,1091.2 3229.5,1082.2 3239.5,1073.7 3249.5,1065.7 3259.5,1058.4 3269.5,1051.6 3279.5,1044.9 3289.5,1038.2 3299.5,1031.1 3309.5,1023.5 3319.5,1015.7 3329.5,1008.0 3339.5,1000.6 3349.5,993.7 3359.5,987.2 3369.5,980.9 3379.5,974.7 3389.5,968.5 3399.5,962.1 3409.5,955.5 3419.5,948.6 3429.5,941.4 3439.5,934.1 3449.5,926.7 3459.5,919.2 3469.5,911.8 3479.5,904.5 3489.5,897.4 3499.5,890.8 3509.5,884.8 3519.5,879.5 3529.5,875.0 3539.5,871.0 3549.5,867.3 3559.5,863.8 3569.5,860.2 3579.5,856.3 3589.5,852.2 3599.5,847.7 3609.5,842.9 3619.5,837.8 3629.5,832.5 3639.5,827.2 3649.5,821.7 3659.5,816.0 3669.5,810.2 3679.5,804.1 3689.5,797.8 3699.5,791.5 3709.5,785.0 3719.5,778.6 3729.5,772.4 3739.5,766.4 3749.5,760.8 3759.5,755.6 3769.5,750.8 3779.5,746.2 3789.5,741.9 3799.5,737.6 3809.5,733.4 3819.5,729.2 3829.5,725.0 3839.5,720.7 3849.5,716.4 3859.5,712.1 3869.5,707.7 3879.5,703.2 3889.5,698.8 3899.5,694.3 3909.5,689.8 3919.5,685.3 3929.5,680.9 3939.5,676.6 3949.5,672.5 3959.5,668.6 3969.5,665.0 3979.5,661.7 3989.5,658.5 3999.5,655.4 4009.5,652.4 4019.5,649.4 4029.5,646.4 4039.5,643.5 4049.5,640.6 4059.5,637.8 4069.5,635.0 4079.5,632.4 4089.5,629.8 4099.5,627.3 4109.5,624.8 4119.5,622.2 4129.5,619.7 4139.5,617.2 4149.5,614.6 4159.5,612.0 4169.5,609.2 4179.5,606.4 4189.5,603.6 4199.5,600.8 4209.5,598.1 4219.5,595.6 4229.5,593.3 4239.5,591.2 4249.5,589.2 4259.5,587.2 4269.5,585.3 4279.5,583.4 4289.5,581.3 4299.5,579.3 4309.5,577.1 4319.5,574.8 4329.5,572.5 4339.5,570.1 4349.5,567.7 4359.5,565.3 4369.5,562.9 4379.5,560.6 4389.5,558.3 4399.5,556.2 4409.5,554.3 4419.5,552.6 4429.5,551.2 4439.5,549.9 4449.5,548.8 4459.5,547.7 4469.5,546.7 4479.5,545.7 4489.5,544.7 4499.5,543.7 4509.5,542.7 4519.5,541.7 4529.5,540.7 4539.5,539.7 4549.5,538.7 4559.5,537.6 4569.5,536.6 4579.5,535.4 4589.5,534.3 4599.5,533.1 4609.5,531.9 4619.5,530.7 4629.5,529.4 4639.5,528.2 4649.5,527.0 4659.5,525.8 4669.5,524.6 4679.5,523.4 4689.5,522.4 4699.5,521.4 4703.0,520.4" stroke="#181818" stroke-width="12.5" stroke-opacity="1"/>
<polyline points="479.5,2221.5 489.5,2221.6 499.5,2221.7 509.5,2221.8 519.5,2221.8 529.5,2221.8 539.5,2221.7 549.5,2221.5 559.5,2221.2 569.5,2220.8 579.5,2220.4 589.5,2220.3 599.5,2220.6 609.5,2221.3 619.5,2222.6 629.5,2224.1 639.5,2225.6 649.5,2226.9 659.5,2227.8 669.5,2228.3 679.5,2228.4 689.5,2228.1 699.5,2227.4 709.5,2226.2 719.5,2224.8 729.5,2223.1 739.5,2221.4 749.5,2219.6 759.5,2217.8 769.5,2215.7 779.5,2213.2 789.5,2210.5 799.5,2207.4 809.5,2204.2 819.5,2201.2 829.5,2198.5 839.5,2196.3 849.5,2194.6 859.5,2193.4 869.5,2192.3 879.5,2191.4 889.5,2190.5 899.5,2189.6 909.5,2188.6 919.5,2187.6 929.5,2186.5 939.5,2185.5 949.5,2184.5 959.5,2183.8 969.5,2183.2 979.5,2182.7 989.5,2182.2 999.5,2181.8 1009.5,2181.3 1019.5,2180.7 1029.5,2179.9 1039.5,2178.7 1049.5,2177.2 1059.5,2175.2 1069.5,2172.9 1079.5,2170.5 1089.5,2168.1 1099.5,2165.8 1109.5,2163.7 1119.5,2162.0 1129.5,2160.7 1139.5,2159.6 1149.5,2158.8 1159.5,2158.1 1169.5,2157.5 1179.5,2157.1 1189.5,2156.8 1199.5,2156.6 1209.5,2156.5 1219.5,2156.2 1229.5,2155.8 1239.5,2154.9 1249.5,2153.6 1259.5,2152.0 1269.5,2150.1 1279.5,2147.9 1289.5,2145.5 1299.5,2142.9 1309.5,2139.9 1319.5,2136.8 1329.5,2133.5 1339.5,2130.1 1349.5,2126.7 1359.5,2123.4 1369.5,2120.3 1379.5,2117.4 1389.5,2114.7 1399.5,2112.1 1409.5,2109.7 1419.5,2107.3 1429.5,2105.0 1439.5,2102.7 1449.5,2100.4 1459.5,2098.0 1469.5,2095.7 1479.5,2093.3 1489.5,2090.9 1499.5,2088.5 1509.5,2086.0 1519.5,2083.6 1529.5,2081.1 1539.5,2078.6 1549.5,2076.1 1559.5,2073.6 1569.5,2071.1 1579.5,2068.5 1589.5,2065.9 1599.5,2063.2 1609.5,2060.4 1619.5,2057.4 1629.5,2054.2 1639.5,2050.9 1649.5,2047.5 1659.5,2044.0 1669.5,2040.5 1679.5,2037.0 1689.5,2033.4 1699.5,2029.9 1709.5,2026.3 1719.5,2022.6 1729.5,2019.0 1739.5,2015.3 1749.5,2011.7 1759.5,2008.0 1769.5,2004.3 1779.5,2000.7 1789.5,1997.0 1799.5,1993.4 1809.5,1989.8 1819.5,1986.3 1829.5,1982.8 1839.5,1979.4 1849.5,1976.1 1859.5,1972.9 1869.5,1969.9 1879.5,1967.2 1889.5,1964.7 1899.5,1962.6 1909.5,1960.7 1919.5,1958.9 1929.5,1957.2 1939.5,1955.4 1949.5,1953.4 1959.5,1950.9 1969.5,1947.8 1979.5,1944.1 1989.5,1939.7 1999.5,1934.8 2009.5,1929.7 2019.5,1924.3 2029.5,1919.0 2039.5,1913.6 2049.5,1908.2 2059.5,1902.8 2069.5,1897.4 2079.5,1892.1 2089.5,1886.8 2099.5,1881.7 2109.5,1876.7 2119.5,1872.0 2129.5,1867.4 2139.5,1862.9 2149.5,1858.5 2159.5,1854.1 2169.5,1849.7 2179.5,1845.2 2189.5,1840.5 2199.5,1835.7 2209.5,1830.7 2219.5,1825.6 2229.5,1820.5 2239.5,1815.3 2249.5,1810.1 2259.5,1805.0 2269.5,1799.8 2279.5,1794.6 2289.5,1789.5 2299.5,1784.3 2309.5,1779.2 2319.5,1774.0 2329.5,1768.9 2339.5,1763.7 2349.5,1758.6 2359.5,1753.4 2369.5,1748.3 2379.5,1743.1 2389.5,1738.0 2399.5,1732.9 2409.5,1727.8 2419.5,1722.7 2429.5,1717.6 2439.5,1712.4 2449.5,1707.1 2459.5,1701.6 2469.5,1695.7 2479.5,1689.6 2489.5,1683.1 2499.5,1676.4 2509.5,1669.5 2519.5,1662.6 2529.5,1655.5 2539.5,1648.3 2549.5,1641.0 2559.5,1633.4 2569.5,1625.7 2579.5,1617.8 2589.5,1609.8 2599.5,1601.8 2609.5,1593.8 2619.5,1585.8 2629.5,1577.8 2639.5,1569.7 2649.5,1561.7 2659.5,1553.7 2669.5,1545.7 2679.5,1537.6 2689.5,1529.6 2699.5,1521.6 2709.5,1513.6 2719.5,1505.5 2729.5,1497.5 2739.5,1489.5 2749.5,1481.5 2759.5,1473.5 2769.5,1465.4 2779.5,1457.4 2789.5,1449.4 2799.5,1441.4 2809.5,1433.3 2819.5,1425.3 2829.5,1417.3 2839.5,1409.3 2849.5,1401.3 2859.5,1393.2 2869.5,1385.2 2879.5,1377.2 2889.5,1369.2 2899.5,1361.3 2909.5,1353.6 2919.5,1346.0 2929.5,1338.7 2939.5,1331.5 2949.5,1324.6 2959.5,1317.8 2969.5,1311.1 2979.5,1304.4 2989.5,1297.6 2999.5,1290.6 3009.5,1283.3 3019.5,1275.7 3029.5,1267.7 3039.5,1259.4 3049.5,1250.8 3059.5,1242.1 3069.5,1233.3 3079.5,1224.4 3089.5,1215.5 3099.5,1206.5 3109.5,1197.4 3119.5,1188.3 3129.5,1179.2 3139.5,1170.2 3149.5,1161.4 3159.5,1152.9 3169.5,1145.0 3179.5,1137.8 3189.5,1131.2 3199.5,1125.1 3209.5,1119.3 3219.5,1113.6 3229.5,1107.9 3239.5,1102.2 3249.5,1096.4 3259.5,1090.4 3269.5,1084.4 3279.5,1078.0 3289.5,1071.3 3299.5,1064.0 3309.5,1056.0 3319.5,1047.5 3329.5,1038.4 3339.5,1029.0 3349.5,1019.5 3359.5,1009.9 3369.5,1000.4 3379.5,991.1 3389.5,982.1 3399.5,973.8 3409.5,966.3 3419.5,959.8 3429.5,954.1 3439.5,949.0 3449.5,944.2 3459.5,939.6 3469.5,935.1 3479.5,930.4 3489.5,925.6 3499.5,920.5 3509.5,915.0 3519.5,909.0 3529.5,902.5 3539.5,895.6 3549.5,888.5 3559.5,881.4 3569.5,874.4 3579.5,867.7 3589.5,861.5 3599.5,855.7 3609.5,850.3 3619.5,845.3 3629.5,840.5 3639.5,835.6 3649.5,830.7 3659.5,825.6 3669.5,820.2 3679.5,814.5 3689.5,808.6 3699.5,802.5 3709.5,796.3 3719.5,790.1 3729.5,784.0 3739.5,778.1 3749.5,772.4 3759.5,767.0 3769.5,761.9 3779.5,757.0 3789.5,752.3 3799.5,747.7 3809.5,743.3 3819.5,739.1 3829.5,734.9 3839.5,730.9 3849.5,726.9 3859.5,722.9 3869.5,718.9 3879.5,715.1 3889.5,711.4 3899.5,707.9 3909.5,704.8 3919.5,702.1 3929.5,699.7 3939.5,697.5 3949.5,695.4 3959.5,693.3 3969.5,691.3 3979.5,689.4 3989.5,687.4 3999.5,685.5 4009.5,683.7 4019.5,682.0 4029.5,680.4 4039.5,678.8 4049.5,677.3 4059.5,675.8 4069.5,674.3 4079.5,672.8 4089.5,671.2 4099.5,669.6 4109.5,668.0 4119.5,666.2 4129.5,664.4 4139.5,662.4 4149.5,660.5 4159.5,658.5 4169.5,656.5 4179.5,654.5 4189.5,652.6 4199.5,650.8 4209.5,649.1 4219.5,647.5 4229.5,646.2 4239.5,645.0 4249.5,644.0 4259.5,643.0 4269.5,642.1 4279.5,641.4 4289.5,640.8 4299.5,640.6 4309.5,640.6 4319.5,640.9 4329.5,641.4 4339.5,642.0 4349.5,642.7 4359.5,643.3 4369.5,643.8 4379.5,644.1 4389.5,644.2 4399.5,643.9 4409.5,643.4 4419.5,642.6 4429.5,641.8 4439.5,640.8 4449.5,639.8 4459.5,638.8 4469.5,637.8 4479.5,636.8 4489.5,635.8 4499.5,634.7 4509.5,633.5 4519.5,632.2 4529.5,630.6 4539.5,628.8 4549.5,626.9 4559.5,624.7 4569.5,622.6 4579.5,620.4 4589.5,618.2 4599.5,616.1 4609.5,614.3 4619.5,612.6 4629.5,611.2 4639.5,610.1 4649.5,609.1 4659.5,608.2 4669.5,607.4 4679.5,606.7 4689.5,606.0 4699.5,605.3 4703.0,604.7" stroke="#ffa500" stroke-width="12.5" stroke-opacity="1"/>
<polyline points="479.5,2221.5 489.5,2219.9 499.5,2218.3 509.5,2216.7 519.5,2215.1 529.5,2213.6 539.5,2212.0 549.5,2210.5 559.5,2209.1 569.5,2207.8 579.5,2206.5 589.5,2205.2 599.5,2203.9 609.5,2202.6 619.5,2201.2 629.5,2199.8 639.5,2198.3 649.5,2196.6 659.5,2195.0 669.5,2193.3 679.5,2191.8 689.5,2190.3 699.5,2188.9 709.5,2187.5 719.5,2186.0 729.5,2184.4 739.5,2182.6 749.5,2180.7 759.5,2178.9 769.5,2177.2 779.5,2175.7 789.5,2174.3 799.5,2173.1 809.5,2171.9 819.5,2170.6 829.5,2169.3 839.5,2167.9 849.5,2166.5 859.5,2165.1 869.5,2163.7 879.5,2162.3 889.5,2160.9 899.5,2159.6 909.5,2158.3 919.5,2157.1 929.5,2155.9 939.5,2154.7 949.5,2153.6 959.5,2152.5 969.5,2151.4 979.5,2150.4 989.5,2149.2 999.5,2148.0 1009.5,2146.6 1019.5,2145.3 1029.5,2144.0 1039.5,2142.8 1049.5,2141.8 1059.5,2141.0 1069.5,2140.2 1079.5,2139.5 1089.5,2138.6 1099.5,2137.6 1109.5,2136.5 1119.5,2135.1 1129.5,2133.8 1139.5,2132.4 1149.5,2131.0 1159.5,2129.8 1169.5,2128.5 1179.5,2127.3 1189.5,2125.9 1199.5,2124.5 1209.5,2122.8 1219.5,2121.0 1229.5,2119.2 1239.5,2117.4 1249.5,2115.7 1259.5,2114.1 1269.5,2112.6 1279.5,2111.3 1289.5,2110.1 1299.5,2109.2 1309.5,2108.4 1319.5,2107.4 1329.5,2106.1 1339.5,2104.4 1349.5,2102.3 1359.5,2100.1 1369.5,2097.9 1379.5,2095.9 1389.5,2094.1 1399.5,2092.4 1409.5,2090.7 1419.5,2089.1 1429.5,2087.3 1439.5,2085.4 1449.5,2083.3 1459.5,2080.8 1469.5,2078.2 1479.5,2075.4 1489.5,2072.4 1499.5,2069.5 1509.5,2066.5 1519.5,2063.5 1529.5,2060.5 1539.5,2057.5 1549.5,2054.5 1559.5,2051.5 1569.5,2048.5 1579.5,2045.5 1589.5,2042.5 1599.5,2039.5 1609.5,2036.5 1619.5,2033.5 1629.5,2030.5 1639.5,2027.5 1649.5,2024.5 1659.5,2021.4 1669.5,2018.4 1679.5,2015.3 1689.5,2012.1 1699.5,2008.9 1709.5,2005.5 1719.5,2002.0 1729.5,1998.4 1739.5,1994.9 1749.5,1991.3 1759.5,1987.7 1769.5,1984.0 1779.5,1980.4 1789.5,1976.8 1799.5,1973.2 1809.5,1969.5 1819.5,1965.7 1829.5,1961.8 1839.5,1957.8 1849.5,1953.7 1859.5,1949.5 1869.5,1945.3 1879.5,1941.1 1889.5,1936.8 1899.5,1932.4 1909.5,1927.9 1919.5,1923.4 1929.5,1918.7 1939.5,1914.0 1949.5,1909.3 1959.5,1904.7 1969.5,1900.1 1979.5,1895.6 1989.5,1891.1 1999.5,1886.7 2009.5,1882.3 2019.5,1877.9 2029.5,1873.6 2039.5,1869.3 2049.5,1865.0 2059.5,1860.6 2069.5,1856.3 2079.5,1852.0 2089.5,1847.7 2099.5,1843.4 2109.5,1839.0 2119.5,1834.7 2129.5,1830.3 2139.5,1825.8 2149.5,1821.2 2159.5,1816.4 2169.5,1811.3 2179.5,1806.0 2189.5,1800.5 2199.5,1794.8 2209.5,1789.1 2219.5,1783.3 2229.5,1777.6 2239.5,1771.9 2249.5,1766.2 2259.5,1760.7 2269.5,1755.1 2279.5,1749.7 2289.5,1744.2 2299.5,1738.8 2309.5,1733.4 2319.5,1727.9 2329.5,1722.4 2339.5,1716.9 2349.5,1711.3 2359.5,1705.5 2369.5,1699.5 2379.5,1693.4 2389.5,1687.1 2399.5,1680.7 2409.5,1674.2 2419.5,1667.7 2429.5,1661.2 2439.5,1654.6 2449.5,1647.9 2459.5,1641.2 2469.5,1634.2 2479.5,1627.0 2489.5,1619.7 2499.5,1612.3 2509.5,1604.8 2519.5,1597.3 2529.5,1589.7 2539.5,1582.2 2549.5,1574.7 2559.5,1567.3 2569.5,1559.8 2579.5,1552.4 2589.5,1544.9 2599.5,1537.5 2609.5,1530.1 2619.5,1522.7 2629.5,1515.2 2639.5,1507.8 2649.5,1500.4 2659.5,1493.0 2669.5,1485.6 2679.5,1478.1 2689.5,1470.7 2699.5,1463.3 2709.5,1455.9 2719.5,1448.5 2729.5,1441.0 2739.5,1433.6 2749.5,1426.2 2759.5,1418.8 2769.5,1411.3 2779.5,1403.9 2789.5,1396.5 2799.5,1389.1 2809.5,1381.7 2819.5,1374.2 2829.5,1366.8 2839.5,1359.4 2849.5,1352.0 2859.5,1344.5 2869.5,1337.1 2879.5,1329.6 2889.5,1322.1 2899.5,1314.6 2909.5,1307.0 2919.5,1299.3 2929.5,1291.7 2939.5,1284.0 2949.5,1276.4 2959.5,1268.7 2969.5,1261.1 2979.5,1253.6 2989.5,1246.1 2999.5,1238.6 3009.5,1231.2 3019.5,1223.8 3029.5,1216.5 3039.5,1209.1 3049.5,1201.8 3059.5,1194.3 3069.5,1186.9 3079.5,1179.2 3089.5,1171.5 3099.5,1163.7 3109.5,1155.8 3119.5,1147.8 3129.5,1139.8 3139.5,1131.8 3149.5,1123.7 3159.5,1115.5 3169.5,1107.2 3179.5,1098.7 3189.5,1090.1 3199.5,1081.3 3209.5,1072.5 3219.5,1063.6 3229.5,1054.7 3239.5,1045.8 3249.5,1036.9 3259.5,1028.0 3269.5,1019.2 3279.5,1010.3 3289.5,1001.5 3299.5,992.6 3309.5,983.8 3319.5,975.0 3329.5,966.4 3339.5,958.1 3349.5,950.2 3359.5,942.9 3369.5,936.2 3379.5,929.9 3389.5,924.1 3399.5,918.4 3409.5,912.9 3419.5,907.3 3429.5,901.8 3439.5,896.2 3449.5,890.4 3459.5,884.6 3469.5,878.5 3479.5,872.2 3489.5,865.9 3499.5,859.4 3509.5,853.0 3519.5,846.5 3529.5,840.0 3539.5,833.5 3549.5,827.1 3559.5,820.8 3569.5,814.6 3579.5,808.4 3589.5,802.3 3599.5,796.3 3609.5,790.2 3619.5,784.2 3629.5,778.3 3639.5,772.3 3649.5,766.3 3659.5,760.4 3669.5,754.6 3679.5,748.8 3689.5,743.0 3699.5,737.4 3709.5,731.7 3719.5,726.1 3729.5,720.7 3739.5,715.5 3749.5,710.6 3759.5,706.0 3769.5,701.7 3779.5,697.6 3789.5,693.6 3799.5,689.7 3809.5,685.8 3819.5,681.9 3829.5,677.9 3839.5,673.9 3849.5,669.9 3859.5,665.9 3869.5,661.9 3879.5,657.9 3889.5,653.9 3899.5,649.9 3909.5,645.9 3919.5,641.9 3929.5,637.9 3939.5,633.9 3949.5,629.9 3959.5,625.9 3969.5,621.9 3979.5,618.0 3989.5,614.2 3999.5,610.5 4009.5,607.1 4019.5,604.0 4029.5,601.1 4039.5,598.4 4049.5,595.8 4059.5,593.3 4069.5,590.8 4079.5,588.3 4089.5,585.8 4099.5,583.4 4109.5,581.1 4119.5,578.8 4129.5,576.7 4139.5,574.6 4149.5,572.5 4159.5,570.5 4169.5,568.5 4179.5,566.5 4189.5,564.5 4199.5,562.6 4209.5,560.6 4219.5,558.6 4229.5,556.7 4239.5,554.8 4249.5,552.9 4259.5,551.0 4269.5,549.2 4279.5,547.4 4289.5,545.7 4299.5,544.2 4309.5,542.8 4319.5,541.6 4329.5,540.4 4339.5,539.4 4349.5,538.4 4359.5,537.3 4369.5,536.3 4379.5,535.3 4389.5,534.3 4399.5,533.3 4409.5,532.3 4419.5,531.2 4429.5,530.2 4439.5,529.1 4449.5,528.0 4459.5,526.8 4469.5,525.7 4479.5,524.5 4489.5,523.4 4499.5,522.2 4509.5,521.0 4519.5,519.9 4529.5,518.7 4539.5,517.5 4549.5,516.4 4559.5,515.2 4569.5,514.1 4579.5,513.0 4589.5,512.0 4599.5,510.9 4609.5,509.9 4619.5,508.9 4629.5,507.9 4639.5,506.8 4649.5,505.8 4659.5,504.8 4669.5,503.8 4679.5,502.8 4689.5,501.8 4699.5,500.9 4707.6,499.9" stroke="#ffbf00" stroke-width="25" stroke-opacity="1"/>
<polyline points="479.5,2221.5 489.5,2218.5 499.5,2215.6 509.5,2212.8 519.5,2210.2 529.5,2208.0 539.5,2206.2 549.5,2204.7 559.5,2203.5 569.5,2202.6 579.5,2202.0 589.5,2201.5 599.5,2201.4 609.5,2201.5 619.5,2201.8 629.5,2202.2 639.5,2202.7 649.5,2203.2 659.5,2203.7 669.5,2204.2 679.5,2204.8 689.5,2205.3 699.5,2205.8 709.5,2206.4 719.5,2207.0 729.5,2207.6 739.5,2208.2 749.5,2208.8 759.5,2209.3 769.5,2209.8 779.5,2210.2 789.5,2210.4 799.5,2210.5 809.5,2210.4 819.5,2210.2 829.5,2210.0 839.5,2209.8 849.5,2209.7 859.5,2209.8 869.5,2210.1 879.5,2210.6 889.5,2211.3 899.5,2212.1 909.5,2213.1 919.5,2214.3 929.5,2215.7 939.5,2217.3 949.5,2219.0 959.5,2220.5 969.5,2221.7 979.5,2222.4 989.5,2222.4 999.5,2221.7 1009.5,2220.5 1019.5,2219.0 1029.5,2217.5 1039.5,2215.9 1049.5,2214.3 1059.5,2212.4 1069.5,2210.1 1079.5,2207.3 1089.5,2204.3 1099.5,2201.3 1109.5,2198.4 1119.5,2195.5 1129.5,2192.5 1139.5,2189.3 1149.5,2185.9 1159.5,2182.5 1169.5,2179.1 1179.5,2175.9 1189.5,2173.1 1199.5,2170.6 1209.5,2168.3 1219.5,2166.3 1229.5,2164.5 1239.5,2162.8 1249.5,2161.3 1259.5,2159.7 1269.5,2157.9 1279.5,2155.8 1289.5,2153.6 1299.5,2151.4 1309.5,2149.6 1319.5,2148.2 1329.5,2147.1 1339.5,2146.2 1349.5,2145.2 1359.5,2144.2 1369.5,2142.8 1379.5,2141.2 1389.5,2139.0 1399.5,2136.3 1409.5,2133.0 1419.5,2128.9 1429.5,2124.3 1439.5,2119.4 1449.5,2114.7 1459.5,2110.6 1469.5,2107.2 1479.5,2104.6 1489.5,2102.3 1499.5,2100.4 1509.5,2098.4 1519.5,2096.3 1529.5,2093.8 1539.5,2091.0 1549.5,2087.8 1559.5,2084.3 1569.5,2080.7 1579.5,2077.0 1589.5,2073.2 1599.5,2069.3 1609.5,2065.3 1619.5,2061.2 1629.5,2056.9 1639.5,2052.5 1649.5,2048.1 1659.5,2043.7 1669.5,2039.3 1679.5,2034.9 1689.5,2030.8 1699.5,2026.8 1709.5,2023.0 1719.5,2019.3 1729.5,2015.8 1739.5,2012.4 1749.5,2008.9 1759.5,2005.4 1769.5,2001.8 1779.5,1998.1 1789.5,1994.2 1799.5,1990.3 1809.5,1986.2 1819.5,1982.1 1829.5,1977.9 1839.5,1973.7 1849.5,1969.6 1859.5,1965.3 1869.5,1961.1 1879.5,1956.9 1889.5,1952.6 1899.5,1948.3 1909.5,1944.0 1919.5,1939.7 1929.5,1935.4 1939.5,1931.1 1949.5,1926.8 1959.5,1922.7 1969.5,1918.6 1979.5,1914.6 1989.5,1910.7 1999.5,1906.9 2009.5,1903.2 2019.5,1899.4 2029.5,1895.7 2039.5,1892.0 2049.5,1888.2 2059.5,1884.3 2069.5,1880.3 2079.5,1876.2 2089.5,1872.1 2099.5,1867.9 2109.5,1863.6 2119.5,1859.3 2129.5,1854.9 2139.5,1850.5 2149.5,1845.9 2159.5,1841.0 2169.5,1835.8 2179.5,1830.2 2189.5,1824.5 2199.5,1818.5 2209.5,1812.5 2219.5,1806.4 2229.5,1800.4 2239.5,1794.4 2249.5,1788.5 2259.5,1782.7 2269.5,1777.0 2279.5,1771.4 2289.5,1765.8 2299.5,1760.3 2309.5,1754.7 2319.5,1749.2 2329.5,1743.7 2339.5,1738.2 2349.5,1732.8 2359.5,1727.6 2369.5,1722.5 2379.5,1717.5 2389.5,1712.7 2399.5,1707.9 2409.5,1703.2 2419.5,1698.3 2429.5,1693.4 2439.5,1688.2 2449.5,1682.8 2459.5,1677.0 2469.5,1670.9 2479.5,1664.4 2489.5,1657.3 2499.5,1649.7 2509.5,1641.5 2519.5,1633.0 2529.5,1624.2 2539.5,1615.5 2549.5,1606.9 2559.5,1598.6 2569.5,1590.4 2579.5,1582.5 2589.5,1574.6 2599.5,1566.8 2609.5,1559.0 2619.5,1551.2 2629.5,1543.4 2639.5,1535.6 2649.5,1527.9 2659.5,1520.1 2669.5,1512.3 2679.5,1504.5 2689.5,1496.7 2699.5,1488.9 2709.5,1481.2 2719.5,1473.4 2729.5,1465.6 2739.5,1457.8 2749.5,1450.0 2759.5,1442.2 2769.5,1434.5 2779.5,1426.7 2789.5,1418.9 2799.5,1411.1 2809.5,1403.3 2819.5,1395.5 2829.5,1387.8 2839.5,1380.0 2849.5,1372.2 2859.5,1364.4 2869.5,1356.7 2879.5,1349.0 2889.5,1341.5 2899.5,1334.0 2909.5,1326.6 2919.5,1319.3 2929.5,1312.0 2939.5,1304.8 2949.5,1297.4 2959.5,1290.0 2969.5,1282.3 2979.5,1274.5 2989.5,1266.5 2999.5,1258.3 3009.5,1250.0 3019.5,1241.7 3029.5,1233.5 3039.5,1225.3 3049.5,1217.3 3059.5,1209.5 3069.5,1202.0 3079.5,1194.8 3089.5,1187.9 3099.5,1181.0 3109.5,1174.3 3119.5,1167.5 3129.5,1160.5 3139.5,1153.2 3149.5,1145.4 3159.5,1136.9 3169.5,1127.6 3179.5,1117.7 3189.5,1107.5 3199.5,1097.1 3209.5,1087.1 3219.5,1077.6 3229.5,1068.8 3239.5,1060.6 3249.5,1052.6 3259.5,1044.3 3269.5,1035.3 3279.5,1025.7 3289.5,1016.0 3299.5,1006.5 3309.5,997.5 3319.5,989.1 3329.5,981.3 3339.5,974.0 3349.5,967.2 3359.5,960.6 3369.5,954.4 3379.5,948.3 3389.5,942.3 3399.5,936.4 3409.5,930.5 3419.5,924.5 3429.5,918.5 3439.5,912.4 3449.5,906.0 3459.5,899.3 3469.5,892.2 3479.5,884.8 3489.5,877.2 3499.5,869.4 3509.5,861.5 3519.5,853.6 3529.5,845.8 3539.5,838.2 3549.5,830.8 3559.5,823.7 3569.5,817.0 3579.5,810.6 3589.5,804.4 3599.5,798.3 3609.5,792.4 3619.5,786.5 3629.5,780.7 3639.5,775.0 3649.5,769.4 3659.5,763.9 3669.5,758.4 3679.5,753.1 3689.5,747.8 3699.5,742.7 3709.5,738.0 3719.5,733.8 3729.5,730.2 3739.5,727.0 3749.5,724.1 3759.5,721.3 3769.5,718.5 3779.5,715.6 3789.5,712.6 3799.5,709.5 3809.5,706.6 3819.5,703.9 3829.5,701.3 3839.5,698.8 3849.5,696.3 3859.5,693.6 3869.5,690.7 3879.5,687.6 3889.5,684.4 3899.5,681.2 3909.5,678.1 3919.5,675.2 3929.5,672.6 3931.4,670.2" stroke="#ff0000" stroke-width="25" stroke-opacity="1"/>
</g>
<circle cx="3931.5" cy="669.5" r="45.6" fill="#ff0000"/>
<rect x="479.5" y="90.5" width="4231.0" height="2260.0" fill="none" stroke="#000" stroke-width="6.67" stroke-linejoin="miter"/>
<path d="M641.5,2350.5V2379.67M990.5,2350.5V2379.67M1339.5,2350.5V2379.67M1688.5,2350.5V2379.67M2037.5,2350.5V2379.67M2385.5,2350.5V2379.67M2734.5,2350.5V2379.67M3083.5,2350.5V2379.67M3432.5,2350.5V2379.67M3781.5,2350.5V2379.67M4129.5,2350.5V2379.67M4478.5,2350.5V2379.67M479.5,2221.5H450.33M479.5,1734.0H450.33M479.5,1246.5H450.33M479.5,759.0H450.33M479.5,271.5H450.33" stroke="#000" stroke-width="6.67" fill="none" stroke-linecap="butt"/>
<g font-family="Liberation Sans, sans-serif" fill="#000" text-anchor="middle">
<text x="638.5" y="2471.0" font-size="88" textLength="132.5" lengthAdjust="spacingAndGlyphs">Jan</text>
<text x="990.5" y="2471.0" font-size="88" textLength="145.0" lengthAdjust="spacingAndGlyphs">Feb</text>
<text x="1340.0" y="2471.0" font-size="88" textLength="157.7" lengthAdjust="spacingAndGlyphs">Mar</text>
<text x="1689.5" y="2471.0" font-size="88" textLength="144.1" lengthAdjust="spacingAndGlyphs">Apr</text>
<text x="2036.0" y="2471.0" font-size="88" textLength="169.5" lengthAdjust="spacingAndGlyphs">May</text>
<text x="2382.5" y="2471.0" font-size="88" textLength="134.5" lengthAdjust="spacingAndGlyphs">Jun</text>
<text x="2730.5" y="2471.0" font-size="88" textLength="102.6" lengthAdjust="spacingAndGlyphs">Jul</text>
<text x="3083.5" y="2471.0" font-size="88" textLength="159.4" lengthAdjust="spacingAndGlyphs">Aug</text>
<text x="3432.0" y="2471.0" font-size="88" textLength="154.5" lengthAdjust="spacingAndGlyphs">Sep</text>
<text x="3781.0" y="2471.0" font-size="88" textLength="140.2" lengthAdjust="spacingAndGlyphs">Oct</text>
<text x="4128.0" y="2471.0" font-size="88" textLength="158.5" lengthAdjust="spacingAndGlyphs">Nov</text>
<text x="4477.0" y="2471.0" font-size="88" textLength="156.7" lengthAdjust="spacingAndGlyphs">Dec</text>
<text x="394.5" y="2252.0" font-size="88" textLength="49.0" lengthAdjust="spacingAndGlyphs">0</text>
<text x="315.0" y="1764.0" font-size="88" textLength="207.7" lengthAdjust="spacingAndGlyphs">1000</text>
<text x="315.0" y="1277.0" font-size="88" textLength="208.4" lengthAdjust="spacingAndGlyphs">2000</text>
<text x="315.0" y="790.0" font-size="88" textLength="207.3" lengthAdjust="spacingAndGlyphs">3000</text>
<text x="314.5" y="302.0" font-size="88" textLength="208.3" lengthAdjust="spacingAndGlyphs">4000</text>
<text x="2594.0" y="2585.0" font-size="88" textLength="527.0" lengthAdjust="spacingAndGlyphs">Time of year</text>
<text transform="translate(156.0,1221.0) rotate(-90)" font-size="88" textLength="1334.1" lengthAdjust="spacingAndGlyphs">Cumulative temperature (degC)</text>
<text x="893.0" y="228.0" font-size="88" textLength="208.4" lengthAdjust="spacingAndGlyphs">2010</text>
<text x="891.5" y="351.0" font-size="88" textLength="206.5" lengthAdjust="spacingAndGlyphs">2012</text>
<text x="892.0" y="473.0" font-size="88" textLength="206.4" lengthAdjust="spacingAndGlyphs">2015</text>
<text x="892.0" y="596.0" font-size="88" textLength="207.5" lengthAdjust="spacingAndGlyphs">2017</text>
<text x="893.0" y="719.0" font-size="88" textLength="208.4" lengthAdjust="spacingAndGlyphs">2020</text>
<text x="891.5" y="841.0" font-size="88" textLength="206.5" lengthAdjust="spacingAndGlyphs">2022</text>
<text x="893.0" y="964.0" font-size="88" textLength="208.3" lengthAdjust="spacingAndGlyphs">2024</text>
<text x="958.5" y="1087.0" font-size="88" textLength="341.1" lengthAdjust="spacingAndGlyphs">Average</text>
<text x="892.0" y="1209.0" font-size="88" textLength="206.4" lengthAdjust="spacingAndGlyphs">2025</text>
</g>
<line x1="548.25" y1="199.5" x2="727.75" y2="199.5" stroke="#ffffff" stroke-width="12.5"/>
<line x1="548.25" y1="322.5" x2="727.75" y2="322.5" stroke="#ececec" stroke-width="12.5"/>
<line x1="548.25" y1="445.5" x2="727.75" y2="445.5" stroke="#c0c0c0" stroke-width="12.5"/>
<line x1="548.25" y1="568.5" x2="727.75" y2="568.5" stroke="#979797" stroke-width="12.5"/>
<line x1="548.25" y1="690.5" x2="727.75" y2="690.5" stroke="#636363" stroke-width="12.5"/>
<line x1="548.25" y1="813.5" x2="727.75" y2="813.5" stroke="#2b2b2b" stroke-width="12.5"/>
<line x1="548.25" y1="936.5" x2="727.75" y2="936.5" stroke="#ffa500" stroke-width="12.5"/>
<line x1="542.0" y1="1058.5" x2="734.0" y2="1058.5" stroke="#ffbf00" stroke-width="25"/>
<line x1="548.25" y1="1181.5" x2="727.75" y2="1181.5" stroke="#ff0000" stroke-width="12.5"/>
</svg></body></html>
